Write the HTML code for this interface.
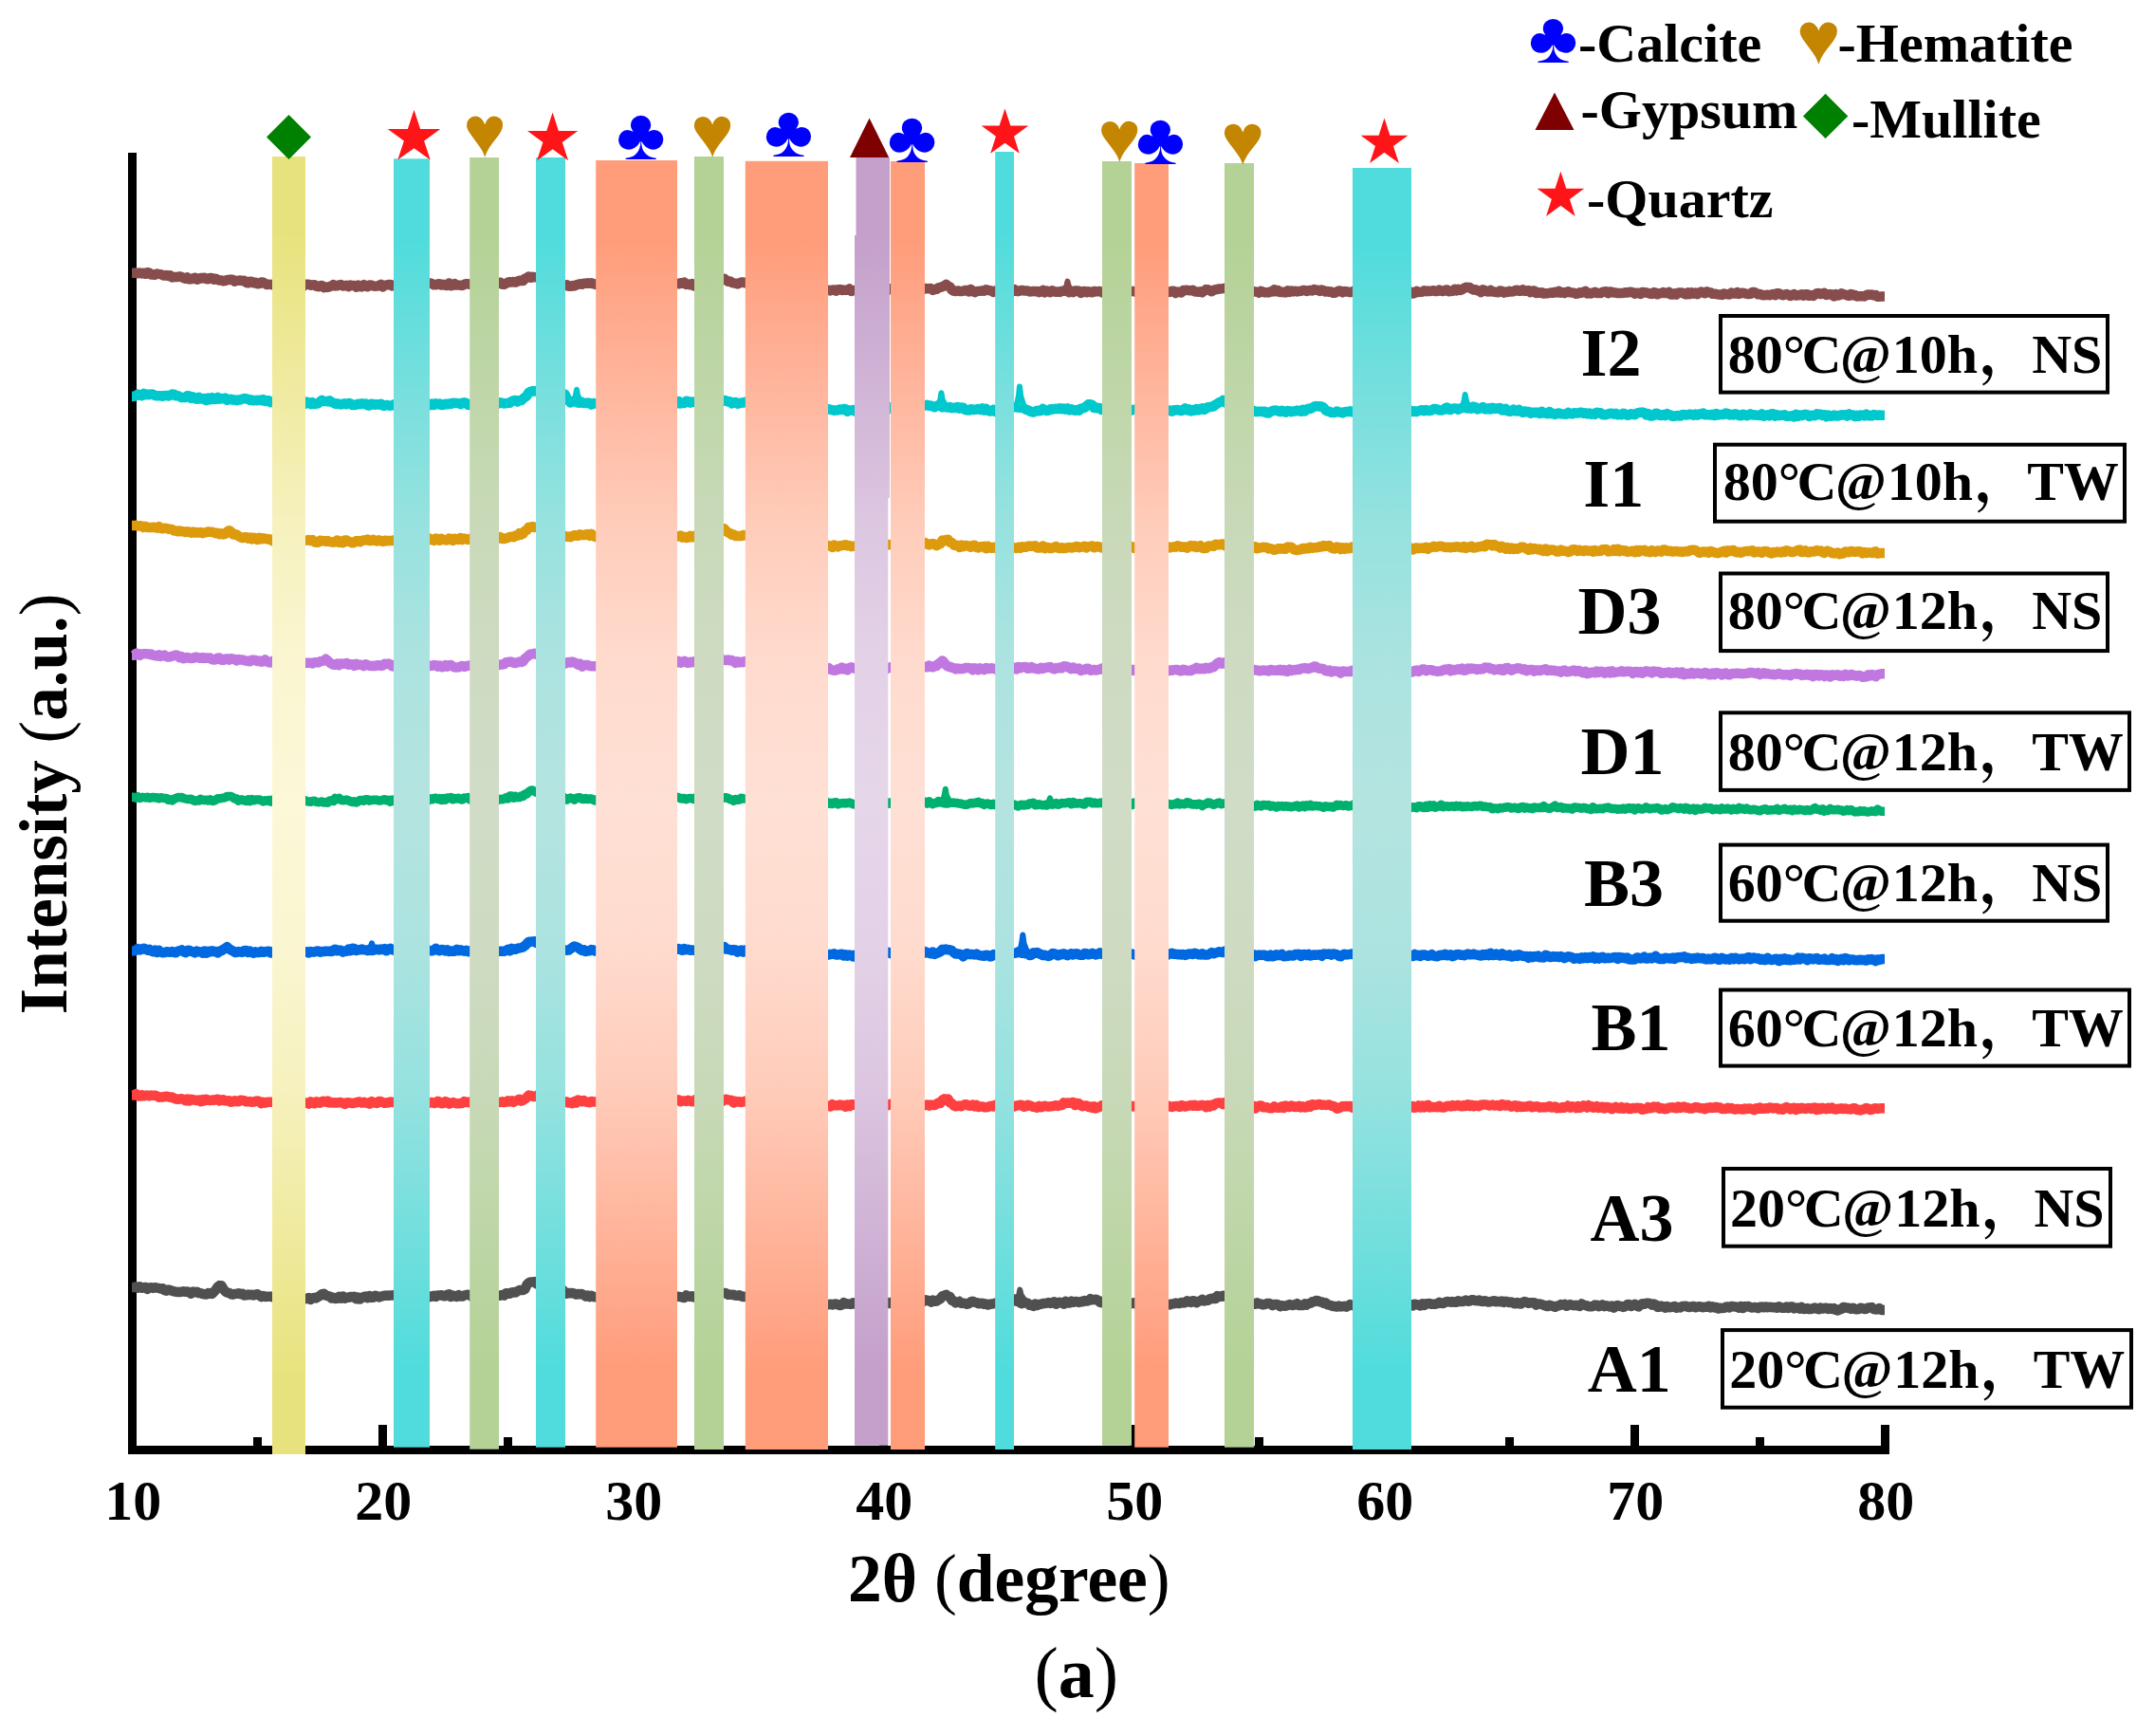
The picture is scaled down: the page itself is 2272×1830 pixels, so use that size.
<!DOCTYPE html>
<html lang="en"><head><meta charset="utf-8"><title>XRD patterns</title>
<style>
html,body{margin:0;padding:0;background:#fff;}
body{width:2272px;height:1830px;overflow:hidden;}
svg{display:block;}
text{font-family:"Liberation Serif","Noto Serif CJK SC",serif;font-weight:bold;}
.cj{font-family:"Noto Serif CJK SC","Liberation Serif",serif;font-weight:bold;}
.sym{font-family:"Liberation Serif",serif;font-weight:normal;}
.n{font-weight:normal;}
.tr{fill:none;stroke-linejoin:round;stroke-linecap:butt;}
</style></head><body>
<svg width="2272" height="1830" viewBox="0 0 2272 1830">
<defs>
<linearGradient id="gy" x1="0" y1="0" x2="0" y2="1"><stop offset="0" stop-color="#e8e27e"/><stop offset="0.06" stop-color="#e8e27e"/><stop offset="0.17" stop-color="#efea9e"/><stop offset="0.28" stop-color="#f6f1bd"/><stop offset="0.39" stop-color="#faf6d1"/><stop offset="0.5" stop-color="#fcf8d8"/><stop offset="0.61" stop-color="#faf6d1"/><stop offset="0.72" stop-color="#f6f1bd"/><stop offset="0.83" stop-color="#efea9e"/><stop offset="0.94" stop-color="#e8e27e"/><stop offset="1" stop-color="#e8e27e"/></linearGradient>
<linearGradient id="gc" x1="0" y1="0" x2="0" y2="1"><stop offset="0" stop-color="#50dcdc"/><stop offset="0.06" stop-color="#50dcdc"/><stop offset="0.17" stop-color="#74dfdd"/><stop offset="0.28" stop-color="#96e2df"/><stop offset="0.39" stop-color="#ace3e0"/><stop offset="0.5" stop-color="#b4e4e0"/><stop offset="0.61" stop-color="#ace3e0"/><stop offset="0.72" stop-color="#96e2df"/><stop offset="0.83" stop-color="#74dfdd"/><stop offset="0.94" stop-color="#50dcdc"/><stop offset="1" stop-color="#50dcdc"/></linearGradient>
<linearGradient id="gg" x1="0" y1="0" x2="0" y2="1"><stop offset="0" stop-color="#b4d296"/><stop offset="0.06" stop-color="#b4d296"/><stop offset="0.17" stop-color="#bed6a7"/><stop offset="0.28" stop-color="#c8d9b8"/><stop offset="0.39" stop-color="#cedbc2"/><stop offset="0.5" stop-color="#d0dcc6"/><stop offset="0.61" stop-color="#cedbc2"/><stop offset="0.72" stop-color="#c8d9b8"/><stop offset="0.83" stop-color="#bed6a7"/><stop offset="0.94" stop-color="#b4d296"/><stop offset="1" stop-color="#b4d296"/></linearGradient>
<linearGradient id="go" x1="0" y1="0" x2="0" y2="1"><stop offset="0" stop-color="#ff9c7a"/><stop offset="0.06" stop-color="#ff9c7a"/><stop offset="0.17" stop-color="#ffb49b"/><stop offset="0.28" stop-color="#ffccba"/><stop offset="0.39" stop-color="#ffdbce"/><stop offset="0.5" stop-color="#ffe0d5"/><stop offset="0.61" stop-color="#ffdbce"/><stop offset="0.72" stop-color="#ffccba"/><stop offset="0.83" stop-color="#ffb49b"/><stop offset="0.94" stop-color="#ff9c7a"/><stop offset="1" stop-color="#ff9c7a"/></linearGradient>
<linearGradient id="gp" x1="0" y1="0" x2="0" y2="1"><stop offset="0" stop-color="#c4a0ca"/><stop offset="0.06" stop-color="#c4a0ca"/><stop offset="0.17" stop-color="#d0b3d6"/><stop offset="0.28" stop-color="#dcc6e0"/><stop offset="0.39" stop-color="#e3d2e7"/><stop offset="0.5" stop-color="#e6d6ea"/><stop offset="0.61" stop-color="#e3d2e7"/><stop offset="0.72" stop-color="#dcc6e0"/><stop offset="0.83" stop-color="#d0b3d6"/><stop offset="0.94" stop-color="#c4a0ca"/><stop offset="1" stop-color="#c4a0ca"/></linearGradient>
</defs>
<rect width="2272" height="1830" fill="#fff"/>
<g fill="#000">
<rect x="135" y="161" width="9" height="1372"/>
<rect x="135" y="1524" width="1857" height="9"/>
<rect x="267.0" y="1515" width="9" height="11"/>
<rect x="399.0" y="1502" width="9" height="24"/>
<rect x="531.0" y="1515" width="9" height="11"/>
<rect x="663.0" y="1502" width="9" height="24"/>
<rect x="795.0" y="1515" width="9" height="11"/>
<rect x="927.0" y="1502" width="9" height="24"/>
<rect x="1059.0" y="1515" width="9" height="11"/>
<rect x="1191.0" y="1502" width="9" height="24"/>
<rect x="1323.0" y="1515" width="9" height="11"/>
<rect x="1455.0" y="1502" width="9" height="24"/>
<rect x="1587.0" y="1515" width="9" height="11"/>
<rect x="1719.0" y="1502" width="9" height="24"/>
<rect x="1851.0" y="1515" width="9" height="11"/>
<rect x="1983.0" y="1502" width="9" height="24"/>
</g>
<polyline class="tr" stroke="#874c4c" stroke-width="10.5" points="139.0,287.7 141.5,287.7 143.5,287.5 145.5,288.2 147.5,287.6 149.5,288.4 151.5,287.8 153.5,288.8 155.5,287.2 157.5,287.6 159.5,289.6 161.5,289.5 163.5,289.8 165.5,288.6 167.5,288.9 169.5,289.1 171.5,290.1 173.5,290.6 175.5,289.9 177.5,290.9 179.5,290.3 181.5,292.4 183.5,292.0 185.5,291.9 187.5,291.9 189.5,291.4 191.5,292.0 193.5,293.0 195.5,293.7 197.5,292.4 199.5,294.4 201.5,294.2 203.5,293.5 205.5,292.8 207.5,294.7 209.5,294.0 211.5,292.9 213.5,293.5 215.5,292.7 217.5,294.0 219.5,294.3 221.5,292.9 223.5,293.1 225.5,294.7 227.5,293.8 229.5,294.7 231.5,295.6 233.5,295.5 235.5,296.2 237.5,296.1 239.5,294.9 241.5,295.1 243.5,294.6 245.5,295.0 247.5,296.7 249.5,295.9 251.5,295.7 253.5,295.6 255.5,296.1 257.5,295.8 259.5,297.8 261.5,298.3 263.5,296.7 265.5,297.0 267.5,298.3 269.5,297.7 271.5,299.2 273.5,299.1 275.5,297.5 277.5,297.8 279.5,299.0 281.5,300.1 283.5,299.7 285.5,299.9 287.5,300.3 289.5,299.0 291.5,299.6 293.5,299.7 295.5,299.1 297.5,299.3 299.5,298.9 301.5,298.8 303.5,300.2 305.5,299.2 307.5,300.5 309.5,300.2 311.5,299.4 313.5,301.2 315.5,300.0 317.5,300.6 319.5,302.0 321.5,299.7 323.5,299.8 325.5,299.8 327.5,300.7 329.5,300.4 331.5,300.2 333.5,301.7 335.5,302.2 337.5,301.2 339.5,301.0 341.5,303.1 343.5,302.6 345.5,302.9 347.5,302.1 349.5,301.5 351.5,300.1 353.5,301.4 355.5,301.2 357.5,300.5 359.5,300.1 361.5,301.4 363.5,301.3 365.5,300.7 367.5,302.1 369.5,300.6 371.5,301.1 373.5,301.1 375.5,302.6 377.5,300.7 379.5,302.0 381.5,302.4 383.5,300.1 385.5,301.6 387.5,302.3 389.5,300.6 391.5,300.6 393.5,301.5 395.5,301.7 397.5,301.6 399.5,301.0 401.5,300.0 403.5,302.4 405.5,300.7 407.5,300.6 409.5,299.9 411.5,299.9 413.5,301.5 415.5,300.7 417.5,300.1 419.5,300.4 421.5,300.3 423.5,300.2 425.5,300.7 427.5,301.3 429.5,299.8 431.5,300.1 433.5,302.1 435.5,300.7 437.5,300.7 439.5,301.2 441.5,300.5 443.5,300.1 445.5,301.4 447.5,300.9 449.5,299.6 451.5,299.0 453.5,298.4 455.5,299.2 457.5,300.3 459.5,300.2 461.5,299.5 463.5,299.2 465.5,300.5 467.5,299.8 469.5,300.7 471.5,301.0 473.5,298.5 475.5,301.2 477.5,300.6 479.5,299.2 481.5,300.6 483.5,300.6 485.5,300.8 487.5,300.9 489.5,299.8 491.5,299.1 493.5,299.3 495.5,299.8 497.5,299.1 499.5,300.9 501.5,299.4 503.5,299.3 505.5,300.8 507.5,300.7 509.5,300.0 511.5,299.2 513.5,299.9 515.5,299.5 517.5,299.3 519.5,299.5 521.5,299.7 523.5,299.6 525.5,297.9 527.5,297.8 529.5,299.7 531.5,299.9 533.5,298.9 535.5,297.6 537.5,297.2 539.5,297.6 541.5,296.9 543.5,297.7 545.5,296.8 547.5,295.8 549.5,295.8 551.5,296.1 553.5,293.5 555.5,293.0 557.5,291.5 559.5,292.7 561.5,291.7 563.5,292.3 565.5,292.1 567.5,292.7 569.5,292.7 571.5,293.5 573.5,293.5 575.5,292.9 577.5,293.6 579.5,293.6 581.5,293.5 583.5,294.3 585.5,294.2 587.5,295.8 589.5,297.1 591.5,298.3 593.5,299.8 595.5,300.9 597.5,300.2 599.5,301.8 601.5,301.8 603.5,301.0 605.5,301.6 607.5,300.4 609.5,299.9 611.5,299.3 613.5,299.7 615.5,298.7 617.5,298.8 619.5,298.3 621.5,298.8 623.5,298.2 625.5,299.1 627.5,299.6 629.5,300.2 631.5,299.6 633.5,300.5 635.5,300.1 637.5,299.5 639.5,300.4 641.5,301.0 643.5,300.4 645.5,301.4 647.5,300.1 649.5,299.4 651.5,299.5 653.5,298.2 655.5,299.7 657.5,299.8 659.5,299.0 661.5,299.5 663.5,299.4 665.5,299.5 667.5,299.5 669.5,298.4 671.5,299.9 673.5,298.8 675.5,299.4 677.5,298.5 679.5,298.8 681.5,300.9 683.5,301.1 685.5,300.1 687.5,299.8 689.5,297.8 691.5,298.3 693.5,300.7 695.5,299.7 697.5,300.5 699.5,298.7 701.5,300.8 703.5,300.5 705.5,299.0 707.5,298.8 709.5,298.3 711.5,298.7 713.5,299.2 715.5,299.3 717.5,298.2 719.5,298.7 721.5,297.7 723.5,299.9 725.5,299.6 727.5,300.2 729.5,299.1 731.5,301.5 733.5,299.6 735.5,298.5 737.5,298.4 739.5,298.4 741.5,297.6 743.5,298.5 745.5,296.5 747.5,297.6 749.5,297.8 751.5,294.9 753.5,296.4 755.5,295.6 757.5,296.2 759.5,295.7 761.5,293.9 763.5,293.8 765.5,295.3 767.5,296.7 769.5,296.4 771.5,297.8 773.5,298.3 775.5,298.7 777.5,299.4 779.5,298.6 781.5,297.4 783.5,297.5 785.5,298.3 787.5,297.4 789.5,297.7 791.5,299.4 793.5,299.3 795.5,300.2 797.5,299.2 799.5,301.0 801.5,300.2 803.5,300.2 805.5,301.5 807.5,299.0 809.5,300.5 811.5,301.4 813.5,301.4 815.5,301.4 817.5,299.8 819.5,302.4 821.5,300.4 823.5,302.4 825.5,302.8 827.5,303.3 829.5,303.8 831.5,302.8 833.5,303.1 835.5,303.1 837.5,303.3 839.5,303.3 841.5,302.5 843.5,304.3 845.5,303.0 847.5,304.1 849.5,303.6 851.5,303.9 853.5,304.1 855.5,305.5 857.5,305.1 859.5,304.3 861.5,304.1 863.5,303.7 865.5,305.7 867.5,306.0 869.5,306.3 871.5,305.9 873.5,305.8 875.5,306.4 877.5,305.7 879.5,305.4 881.5,306.7 883.5,305.3 885.5,305.1 887.5,306.0 889.5,305.6 891.5,305.9 893.5,305.7 895.5,304.5 897.5,306.9 899.5,306.3 901.5,305.9 903.5,307.1 905.5,306.2 907.5,306.5 909.5,306.7 911.5,306.7 913.5,306.9 915.5,305.4 917.5,306.5 919.5,306.1 921.5,307.1 923.5,305.1 925.5,304.5 927.5,305.7 929.5,306.1 931.5,304.6 933.5,304.7 935.5,304.9 937.5,304.9 939.5,304.0 941.5,306.4 943.5,304.5 945.5,306.2 947.5,306.3 949.5,305.5 951.5,304.9 953.5,305.5 955.5,305.1 957.5,304.2 959.5,303.4 961.5,305.2 963.5,303.5 965.5,304.8 967.5,303.7 969.5,304.6 971.5,304.0 973.5,305.0 975.5,304.1 977.5,304.2 979.5,304.2 981.5,303.9 983.5,305.9 985.5,305.1 987.5,304.8 989.5,303.3 991.5,302.9 993.5,302.3 995.5,301.4 997.5,299.9 999.5,301.5 1001.5,302.5 1003.5,305.5 1005.5,306.7 1007.5,307.1 1009.5,306.4 1011.5,307.0 1013.5,307.0 1015.5,306.7 1017.5,306.1 1019.5,306.0 1021.5,307.5 1023.5,305.0 1025.5,306.9 1027.5,308.1 1029.5,307.2 1031.5,306.9 1033.5,306.7 1035.5,306.4 1037.5,306.7 1039.5,305.3 1041.5,305.9 1043.5,306.2 1045.5,306.8 1047.5,308.0 1049.5,306.5 1051.5,306.8 1053.5,307.5 1055.5,306.2 1057.5,307.1 1059.5,306.9 1061.5,306.1 1063.5,305.8 1065.5,306.0 1067.5,307.3 1069.5,305.2 1071.5,306.8 1073.5,307.2 1075.5,306.4 1077.5,306.0 1079.5,306.4 1081.5,306.5 1083.5,306.5 1085.5,307.4 1087.5,307.3 1089.5,306.9 1091.5,307.2 1093.5,307.1 1095.5,308.2 1097.5,307.1 1099.5,306.0 1101.5,308.5 1103.5,306.6 1105.5,307.2 1107.5,308.1 1109.5,306.3 1111.5,307.4 1113.5,307.8 1115.5,307.5 1117.5,307.9 1119.5,306.8 1121.5,306.8 1123.5,305.7 1125.5,307.0 1127.5,308.3 1129.5,307.1 1131.5,308.1 1133.5,306.4 1135.5,306.4 1137.5,306.6 1139.5,309.0 1141.5,307.3 1143.5,306.9 1145.5,308.3 1147.5,307.2 1149.5,307.9 1151.5,308.3 1153.5,306.9 1155.5,307.4 1157.5,307.2 1159.5,306.9 1161.5,308.1 1163.5,308.7 1165.5,307.1 1167.5,307.0 1169.5,306.4 1171.5,308.5 1173.5,308.1 1175.5,308.4 1177.5,308.7 1179.5,307.5 1181.5,306.7 1183.5,306.3 1185.5,308.6 1187.5,308.2 1189.5,307.6 1191.5,307.4 1193.5,306.9 1195.5,307.0 1197.5,307.8 1199.5,307.1 1201.5,306.3 1203.5,308.5 1205.5,307.8 1207.5,309.0 1209.5,308.5 1211.5,309.0 1213.5,307.4 1215.5,306.7 1217.5,306.4 1219.5,307.2 1221.5,306.7 1223.5,307.3 1225.5,308.1 1227.5,306.4 1229.5,306.8 1231.5,308.2 1233.5,307.8 1235.5,306.8 1237.5,306.8 1239.5,309.0 1241.5,307.6 1243.5,307.8 1245.5,308.4 1247.5,306.1 1249.5,306.0 1251.5,305.8 1253.5,306.2 1255.5,306.2 1257.5,305.8 1259.5,307.4 1261.5,307.4 1263.5,307.8 1265.5,307.3 1267.5,308.3 1269.5,306.6 1271.5,305.1 1273.5,305.3 1275.5,306.2 1277.5,307.3 1279.5,305.9 1281.5,305.2 1283.5,305.0 1285.5,304.4 1287.5,304.4 1289.5,304.1 1291.5,303.8 1293.5,304.4 1295.5,305.8 1297.5,304.3 1299.5,304.3 1301.5,305.8 1303.5,306.6 1305.5,306.4 1307.5,306.6 1309.5,306.4 1311.5,305.3 1313.5,306.7 1315.5,304.7 1317.5,307.4 1319.5,306.3 1321.5,307.5 1323.5,307.6 1325.5,307.7 1327.5,308.6 1329.5,306.8 1331.5,307.6 1333.5,308.4 1335.5,308.2 1337.5,308.4 1339.5,307.3 1341.5,307.4 1343.5,305.2 1345.5,307.2 1347.5,306.1 1349.5,308.1 1351.5,307.7 1353.5,308.2 1355.5,308.4 1357.5,306.5 1359.5,307.9 1361.5,306.5 1363.5,307.4 1365.5,306.7 1367.5,307.5 1369.5,307.0 1371.5,306.8 1373.5,306.0 1375.5,305.9 1377.5,307.0 1379.5,306.4 1381.5,306.0 1383.5,306.5 1385.5,305.1 1387.5,305.7 1389.5,305.8 1391.5,306.9 1393.5,305.6 1395.5,306.3 1397.5,307.6 1399.5,307.0 1401.5,307.7 1403.5,307.5 1405.5,308.8 1407.5,308.7 1409.5,307.6 1411.5,306.4 1413.5,306.9 1415.5,308.3 1417.5,307.1 1419.5,307.3 1421.5,307.7 1423.5,308.2 1425.5,307.8 1427.5,306.8 1429.5,305.6 1431.5,305.6 1433.5,305.6 1435.5,307.3 1437.5,306.5 1439.5,308.1 1441.5,307.5 1443.5,308.4 1445.5,306.8 1447.5,306.6 1449.5,308.2 1451.5,306.9 1453.5,306.4 1455.5,306.6 1457.5,308.1 1459.5,306.4 1461.5,307.3 1463.5,307.5 1465.5,308.7 1467.5,306.9 1469.5,306.3 1471.5,308.4 1473.5,306.8 1475.5,306.1 1477.5,305.4 1479.5,307.8 1481.5,307.9 1483.5,308.5 1485.5,307.3 1487.5,307.7 1489.5,309.5 1491.5,308.9 1493.5,306.8 1495.5,308.1 1497.5,307.9 1499.5,307.7 1501.5,306.4 1503.5,307.3 1505.5,306.6 1507.5,307.1 1509.5,306.7 1511.5,306.2 1513.5,307.1 1515.5,307.0 1517.5,305.6 1519.5,306.6 1521.5,307.1 1523.5,305.9 1525.5,305.5 1527.5,307.3 1529.5,306.9 1531.5,306.8 1533.5,305.0 1535.5,306.4 1537.5,304.8 1539.5,305.9 1541.5,305.3 1543.5,303.9 1545.5,302.8 1547.5,303.0 1549.5,303.0 1551.5,304.6 1553.5,305.6 1555.5,305.2 1557.5,306.2 1559.5,306.5 1561.5,308.2 1563.5,305.4 1565.5,306.2 1567.5,307.2 1569.5,307.5 1571.5,306.0 1573.5,307.5 1575.5,307.6 1577.5,308.1 1579.5,308.2 1581.5,306.5 1583.5,306.9 1585.5,308.6 1587.5,307.6 1589.5,308.0 1591.5,306.8 1593.5,307.6 1595.5,307.4 1597.5,306.1 1599.5,305.7 1601.5,306.8 1603.5,306.8 1605.5,305.4 1607.5,306.9 1609.5,306.5 1611.5,306.3 1613.5,308.2 1615.5,306.8 1617.5,306.5 1619.5,309.0 1621.5,308.1 1623.5,308.9 1625.5,308.2 1627.5,309.5 1629.5,309.2 1631.5,309.2 1633.5,308.9 1635.5,308.5 1637.5,308.7 1639.5,307.7 1641.5,308.5 1643.5,307.0 1645.5,308.6 1647.5,307.9 1649.5,309.1 1651.5,307.9 1653.5,307.2 1655.5,308.4 1657.5,308.6 1659.5,308.7 1661.5,309.7 1663.5,309.6 1665.5,308.3 1667.5,308.7 1669.5,307.6 1671.5,306.9 1673.5,309.4 1675.5,308.8 1677.5,309.5 1679.5,308.6 1681.5,307.8 1683.5,309.0 1685.5,309.1 1687.5,309.1 1689.5,307.8 1691.5,307.4 1693.5,307.2 1695.5,309.2 1697.5,307.5 1699.5,307.9 1701.5,308.5 1703.5,308.6 1705.5,309.0 1707.5,309.1 1709.5,309.1 1711.5,308.9 1713.5,308.2 1715.5,308.6 1717.5,308.0 1719.5,307.7 1721.5,308.3 1723.5,309.6 1725.5,308.7 1727.5,308.8 1729.5,309.9 1731.5,308.0 1733.5,308.2 1735.5,308.5 1737.5,308.9 1739.5,309.7 1741.5,309.9 1743.5,308.2 1745.5,308.7 1747.5,310.3 1749.5,309.3 1751.5,309.1 1753.5,308.0 1755.5,309.1 1757.5,309.1 1759.5,307.9 1761.5,310.6 1763.5,310.6 1765.5,309.3 1767.5,310.5 1769.5,308.6 1771.5,308.5 1773.5,308.5 1775.5,309.6 1777.5,310.4 1779.5,308.5 1781.5,310.0 1783.5,308.3 1785.5,309.6 1787.5,308.6 1789.5,310.1 1791.5,308.7 1793.5,307.6 1795.5,308.2 1797.5,309.2 1799.5,307.3 1801.5,308.1 1803.5,308.5 1805.5,309.8 1807.5,309.7 1809.5,310.0 1811.5,310.5 1813.5,310.5 1815.5,310.9 1817.5,309.5 1819.5,310.1 1821.5,310.3 1823.5,310.4 1825.5,308.6 1827.5,309.5 1829.5,309.4 1831.5,308.2 1833.5,310.0 1835.5,309.2 1837.5,308.7 1839.5,309.3 1841.5,309.7 1843.5,310.0 1845.5,309.8 1847.5,308.0 1849.5,307.9 1851.5,309.0 1853.5,310.3 1855.5,309.9 1857.5,311.0 1859.5,311.2 1861.5,311.1 1863.5,310.8 1865.5,311.2 1867.5,310.6 1869.5,309.9 1871.5,311.1 1873.5,309.2 1875.5,309.2 1877.5,310.4 1879.5,311.3 1881.5,310.6 1883.5,310.1 1885.5,310.7 1887.5,311.9 1889.5,311.3 1891.5,310.0 1893.5,311.6 1895.5,311.3 1897.5,311.0 1899.5,310.3 1901.5,311.7 1903.5,310.3 1905.5,310.2 1907.5,311.8 1909.5,311.2 1911.5,312.0 1913.5,310.5 1915.5,309.3 1917.5,309.1 1919.5,310.1 1921.5,309.5 1923.5,308.8 1925.5,310.9 1927.5,310.4 1929.5,310.1 1931.5,310.5 1933.5,312.4 1935.5,310.1 1937.5,311.5 1939.5,311.1 1941.5,309.3 1943.5,310.2 1945.5,310.6 1947.5,311.3 1949.5,311.8 1951.5,310.0 1953.5,311.2 1955.5,310.9 1957.5,312.4 1959.5,312.3 1961.5,312.2 1963.5,312.2 1965.5,312.4 1967.5,311.2 1969.5,310.5 1971.5,310.7 1973.5,310.6 1975.5,311.5 1977.5,311.0 1979.5,312.7 1981.5,312.8 1983.5,312.4 1987.0,312.4"/>
<polyline class="tr" stroke="#874c4c" stroke-width="6" stroke-linecap="round" points="1122.0,307.0 1124.5,301.1 1125.5,296.6 1126.7,301.6 1130.5,306.5"/>
<polyline class="tr" stroke="#00c8cc" stroke-width="10.5" points="139.0,417.8 141.5,417.8 143.5,417.0 145.5,415.6 147.5,416.6 149.5,417.1 151.5,415.0 153.5,416.2 155.5,415.7 157.5,416.2 159.5,415.4 161.5,415.9 163.5,417.0 165.5,417.2 167.5,417.2 169.5,417.2 171.5,417.8 173.5,416.9 175.5,416.9 177.5,417.4 179.5,416.8 181.5,415.6 183.5,415.7 185.5,417.2 187.5,417.2 189.5,418.0 191.5,419.1 193.5,419.1 195.5,419.1 197.5,417.2 199.5,417.5 201.5,419.7 203.5,418.4 205.5,420.3 207.5,420.7 209.5,418.7 211.5,420.5 213.5,420.3 215.5,419.9 217.5,422.1 219.5,419.7 221.5,421.1 223.5,419.3 225.5,420.9 227.5,420.8 229.5,419.0 231.5,420.6 233.5,419.9 235.5,420.3 237.5,419.5 239.5,421.8 241.5,421.1 243.5,420.8 245.5,421.5 247.5,421.4 249.5,422.2 251.5,421.4 253.5,421.4 255.5,420.5 257.5,420.0 259.5,420.3 261.5,420.8 263.5,421.8 265.5,421.5 267.5,422.3 269.5,421.9 271.5,422.2 273.5,421.7 275.5,422.2 277.5,421.1 279.5,423.0 281.5,422.3 283.5,422.2 285.5,424.2 287.5,423.4 289.5,425.1 291.5,423.2 293.5,422.9 295.5,422.8 297.5,424.9 299.5,423.9 301.5,423.7 303.5,424.9 305.5,423.9 307.5,423.7 309.5,424.6 311.5,423.9 313.5,424.9 315.5,423.2 317.5,422.9 319.5,424.6 321.5,425.7 323.5,423.7 325.5,424.6 327.5,426.0 329.5,424.3 331.5,426.1 333.5,425.7 335.5,425.1 337.5,423.3 339.5,421.9 341.5,423.1 343.5,423.1 345.5,423.3 347.5,422.3 349.5,423.9 351.5,424.6 353.5,425.7 355.5,425.4 357.5,425.9 359.5,426.4 361.5,425.9 363.5,425.2 365.5,426.1 367.5,424.9 369.5,425.3 371.5,427.0 373.5,427.0 375.5,426.6 377.5,425.7 379.5,426.1 381.5,425.2 383.5,425.8 385.5,425.6 387.5,427.4 389.5,427.6 391.5,425.8 393.5,426.0 395.5,426.7 397.5,426.2 399.5,426.6 401.5,425.7 403.5,427.5 405.5,427.8 407.5,426.9 409.5,427.4 411.5,427.7 413.5,427.3 415.5,426.3 417.5,426.9 419.5,427.8 421.5,427.4 423.5,426.0 425.5,425.1 427.5,426.0 429.5,426.9 431.5,427.1 433.5,424.9 435.5,424.7 437.5,426.0 439.5,425.1 441.5,425.6 443.5,426.9 445.5,424.6 447.5,426.9 449.5,426.9 451.5,427.3 453.5,427.0 455.5,425.7 457.5,427.0 459.5,425.4 461.5,426.2 463.5,425.6 465.5,427.1 467.5,426.8 469.5,425.7 471.5,426.2 473.5,425.5 475.5,425.8 477.5,424.7 479.5,425.0 481.5,424.9 483.5,425.1 485.5,426.1 487.5,424.7 489.5,424.3 491.5,424.8 493.5,426.9 495.5,426.4 497.5,426.0 499.5,425.2 501.5,426.5 503.5,425.9 505.5,425.0 507.5,427.2 509.5,426.5 511.5,424.6 513.5,425.1 515.5,426.7 517.5,425.3 519.5,425.3 521.5,425.2 523.5,426.5 525.5,424.8 527.5,424.3 529.5,424.8 531.5,425.4 533.5,425.2 535.5,424.8 537.5,424.7 539.5,423.0 541.5,422.4 543.5,421.9 545.5,423.5 547.5,422.3 549.5,422.1 551.5,420.2 553.5,418.8 555.5,417.0 557.5,413.7 559.5,412.8 561.5,412.1 563.5,412.6 565.5,412.0 567.5,411.4 569.5,412.7 571.5,411.8 573.5,412.8 575.5,412.7 577.5,411.2 579.5,412.2 581.5,412.0 583.5,412.3 585.5,413.2 587.5,413.2 589.5,414.9 591.5,414.8 593.5,415.0 595.5,415.5 597.5,420.0 599.5,422.2 601.5,424.4 603.5,423.1 605.5,423.5 607.5,423.2 609.5,424.6 611.5,424.7 613.5,423.9 615.5,425.0 617.5,425.1 619.5,424.6 621.5,424.8 623.5,426.5 625.5,424.9 627.5,425.4 629.5,425.4 631.5,425.2 633.5,425.8 635.5,426.9 637.5,426.8 639.5,426.0 641.5,427.9 643.5,426.8 645.5,426.6 647.5,425.9 649.5,427.2 651.5,427.2 653.5,425.2 655.5,424.7 657.5,426.2 659.5,427.0 661.5,424.8 663.5,424.7 665.5,424.7 667.5,425.6 669.5,426.5 671.5,425.8 673.5,425.6 675.5,425.7 677.5,426.0 679.5,425.2 681.5,424.0 683.5,424.2 685.5,425.4 687.5,425.2 689.5,424.8 691.5,423.4 693.5,423.7 695.5,423.7 697.5,424.0 699.5,423.9 701.5,424.1 703.5,424.8 705.5,423.6 707.5,422.8 709.5,425.0 711.5,424.8 713.5,425.5 715.5,422.9 717.5,425.4 719.5,424.7 721.5,425.0 723.5,422.7 725.5,423.1 727.5,424.6 729.5,423.5 731.5,424.1 733.5,423.3 735.5,422.8 737.5,423.3 739.5,423.2 741.5,423.3 743.5,423.4 745.5,423.1 747.5,422.5 749.5,422.6 751.5,423.2 753.5,422.0 755.5,422.1 757.5,422.0 759.5,421.3 761.5,423.2 763.5,421.9 765.5,422.3 767.5,423.4 769.5,423.3 771.5,425.3 773.5,424.1 775.5,423.9 777.5,425.7 779.5,425.2 781.5,424.6 783.5,424.5 785.5,423.8 787.5,424.6 789.5,425.3 791.5,426.3 793.5,423.7 795.5,423.7 797.5,425.4 799.5,424.6 801.5,423.5 803.5,424.2 805.5,426.5 807.5,425.1 809.5,425.7 811.5,426.5 813.5,425.7 815.5,426.0 817.5,427.0 819.5,427.8 821.5,427.7 823.5,426.6 825.5,428.9 827.5,428.9 829.5,427.3 831.5,429.1 833.5,429.3 835.5,429.0 837.5,428.2 839.5,429.9 841.5,428.5 843.5,430.0 845.5,431.3 847.5,430.3 849.5,432.0 851.5,430.7 853.5,429.2 855.5,429.7 857.5,431.4 859.5,432.2 861.5,431.8 863.5,430.7 865.5,432.6 867.5,430.6 869.5,431.9 871.5,431.4 873.5,431.3 875.5,431.9 877.5,432.1 879.5,432.7 881.5,432.5 883.5,432.2 885.5,431.5 887.5,432.0 889.5,430.9 891.5,431.4 893.5,433.7 895.5,432.5 897.5,432.6 899.5,432.1 901.5,433.7 903.5,433.7 905.5,434.0 907.5,433.3 909.5,433.3 911.5,431.3 913.5,431.1 915.5,432.6 917.5,432.5 919.5,432.4 921.5,430.8 923.5,430.0 925.5,431.0 927.5,430.1 929.5,431.0 931.5,430.7 933.5,431.2 935.5,429.3 937.5,429.3 939.5,431.1 941.5,429.2 943.5,429.6 945.5,428.1 947.5,429.8 949.5,428.9 951.5,430.9 953.5,428.4 955.5,428.7 957.5,429.4 959.5,429.1 961.5,429.7 963.5,429.4 965.5,430.4 967.5,429.0 969.5,430.0 971.5,428.2 973.5,427.9 975.5,427.3 977.5,426.8 979.5,427.8 981.5,427.6 983.5,428.5 985.5,429.2 987.5,427.9 989.5,427.2 991.5,427.6 993.5,429.4 995.5,428.7 997.5,429.3 999.5,429.6 1001.5,429.1 1003.5,430.2 1005.5,429.8 1007.5,429.9 1009.5,429.1 1011.5,430.7 1013.5,429.6 1015.5,429.7 1017.5,432.0 1019.5,432.5 1021.5,432.5 1023.5,431.2 1025.5,432.0 1027.5,431.8 1029.5,431.7 1031.5,430.9 1033.5,431.9 1035.5,430.5 1037.5,432.4 1039.5,430.7 1041.5,432.9 1043.5,433.6 1045.5,433.4 1047.5,431.8 1049.5,434.1 1051.5,432.1 1053.5,431.9 1055.5,430.6 1057.5,430.2 1059.5,430.6 1061.5,428.7 1063.5,429.2 1065.5,428.5 1067.5,428.8 1069.5,429.0 1071.5,429.5 1073.5,429.6 1075.5,429.8 1077.5,429.5 1079.5,430.5 1081.5,431.6 1083.5,432.2 1085.5,433.2 1087.5,434.2 1089.5,434.6 1091.5,433.6 1093.5,432.8 1095.5,433.3 1097.5,432.8 1099.5,431.0 1101.5,432.3 1103.5,432.9 1105.5,432.7 1107.5,431.3 1109.5,431.5 1111.5,431.1 1113.5,430.8 1115.5,431.2 1117.5,430.3 1119.5,431.2 1121.5,430.5 1123.5,431.6 1125.5,430.4 1127.5,432.4 1129.5,431.3 1131.5,432.4 1133.5,432.7 1135.5,432.1 1137.5,432.8 1139.5,430.8 1141.5,430.2 1143.5,429.8 1145.5,428.1 1147.5,426.2 1149.5,426.3 1151.5,427.0 1153.5,430.0 1155.5,429.3 1157.5,430.5 1159.5,430.1 1161.5,432.1 1163.5,432.1 1165.5,432.1 1167.5,432.2 1169.5,431.0 1171.5,432.7 1173.5,432.8 1175.5,432.8 1177.5,433.1 1179.5,431.3 1181.5,433.7 1183.5,432.3 1185.5,433.0 1187.5,431.4 1189.5,432.0 1191.5,432.4 1193.5,432.5 1195.5,431.6 1197.5,431.4 1199.5,431.4 1201.5,432.9 1203.5,433.7 1205.5,431.3 1207.5,432.5 1209.5,432.4 1211.5,433.4 1213.5,433.7 1215.5,434.3 1217.5,433.2 1219.5,432.2 1221.5,434.0 1223.5,433.2 1225.5,432.9 1227.5,434.3 1229.5,432.1 1231.5,433.0 1233.5,432.6 1235.5,433.7 1237.5,432.3 1239.5,432.4 1241.5,432.0 1243.5,432.7 1245.5,433.1 1247.5,431.8 1249.5,430.5 1251.5,432.5 1253.5,431.4 1255.5,433.3 1257.5,432.0 1259.5,432.7 1261.5,431.1 1263.5,432.4 1265.5,431.2 1267.5,430.4 1269.5,432.0 1271.5,430.8 1273.5,429.2 1275.5,429.1 1277.5,428.5 1279.5,428.4 1281.5,426.6 1283.5,425.4 1285.5,424.1 1287.5,423.6 1289.5,422.0 1291.5,423.7 1293.5,425.2 1295.5,425.8 1297.5,425.3 1299.5,427.0 1301.5,428.7 1303.5,429.3 1305.5,430.1 1307.5,431.9 1309.5,431.1 1311.5,432.5 1313.5,431.3 1315.5,432.8 1317.5,431.8 1319.5,434.3 1321.5,432.8 1323.5,433.9 1325.5,434.0 1327.5,433.7 1329.5,433.7 1331.5,434.2 1333.5,433.7 1335.5,435.4 1337.5,435.6 1339.5,433.9 1341.5,433.2 1343.5,432.7 1345.5,432.5 1347.5,433.3 1349.5,434.0 1351.5,432.7 1353.5,433.9 1355.5,434.7 1357.5,433.1 1359.5,433.3 1361.5,434.2 1363.5,433.4 1365.5,433.6 1367.5,432.6 1369.5,433.0 1371.5,433.8 1373.5,431.7 1375.5,433.6 1377.5,431.8 1379.5,430.7 1381.5,431.0 1383.5,429.9 1385.5,428.6 1387.5,428.0 1389.5,428.5 1391.5,428.2 1393.5,428.6 1395.5,429.8 1397.5,432.4 1399.5,433.6 1401.5,433.8 1403.5,434.9 1405.5,435.1 1407.5,434.8 1409.5,433.6 1411.5,434.4 1413.5,434.7 1415.5,435.4 1417.5,434.2 1419.5,434.1 1421.5,434.1 1423.5,433.2 1425.5,434.1 1427.5,434.9 1429.5,434.3 1431.5,434.1 1433.5,434.9 1435.5,434.1 1437.5,434.7 1439.5,433.2 1441.5,433.8 1443.5,433.7 1445.5,433.3 1447.5,434.2 1449.5,433.8 1451.5,435.6 1453.5,435.4 1455.5,434.5 1457.5,434.9 1459.5,432.4 1461.5,432.7 1463.5,433.5 1465.5,434.3 1467.5,433.6 1469.5,432.6 1471.5,433.0 1473.5,433.2 1475.5,433.7 1477.5,432.5 1479.5,434.1 1481.5,432.0 1483.5,432.8 1485.5,433.8 1487.5,432.8 1489.5,434.0 1491.5,433.3 1493.5,434.1 1495.5,433.1 1497.5,432.7 1499.5,432.2 1501.5,433.2 1503.5,432.0 1505.5,432.9 1507.5,433.0 1509.5,432.4 1511.5,431.1 1513.5,431.0 1515.5,431.6 1517.5,432.5 1519.5,432.6 1521.5,432.1 1523.5,430.5 1525.5,429.5 1527.5,431.8 1529.5,431.9 1531.5,430.6 1533.5,430.4 1535.5,430.7 1537.5,431.7 1539.5,430.6 1541.5,430.0 1543.5,429.1 1545.5,429.7 1547.5,430.6 1549.5,430.1 1551.5,430.8 1553.5,428.6 1555.5,429.3 1557.5,431.4 1559.5,430.9 1561.5,430.3 1563.5,429.1 1565.5,431.4 1567.5,431.3 1569.5,430.2 1571.5,431.4 1573.5,429.8 1575.5,431.0 1577.5,430.4 1579.5,430.7 1581.5,430.0 1583.5,432.5 1585.5,432.4 1587.5,431.0 1589.5,433.2 1591.5,433.8 1593.5,433.4 1595.5,431.6 1597.5,433.3 1599.5,433.6 1601.5,432.0 1603.5,433.7 1605.5,434.8 1607.5,433.5 1609.5,434.2 1611.5,433.9 1613.5,435.7 1615.5,434.7 1617.5,435.1 1619.5,434.8 1621.5,434.7 1623.5,435.9 1625.5,433.8 1627.5,435.6 1629.5,435.6 1631.5,436.1 1633.5,434.0 1635.5,436.0 1637.5,435.7 1639.5,436.9 1641.5,435.9 1643.5,435.5 1645.5,436.2 1647.5,436.4 1649.5,436.4 1651.5,436.7 1653.5,434.9 1655.5,436.1 1657.5,436.4 1659.5,435.2 1661.5,435.5 1663.5,435.6 1665.5,434.8 1667.5,434.8 1669.5,435.8 1671.5,435.3 1673.5,436.3 1675.5,435.5 1677.5,436.7 1679.5,435.9 1681.5,436.8 1683.5,434.8 1685.5,435.1 1687.5,435.3 1689.5,437.2 1691.5,437.1 1693.5,437.2 1695.5,436.4 1697.5,435.7 1699.5,435.8 1701.5,436.7 1703.5,435.8 1705.5,437.2 1707.5,436.9 1709.5,437.3 1711.5,435.8 1713.5,436.5 1715.5,437.7 1717.5,437.6 1719.5,436.3 1721.5,436.6 1723.5,437.2 1725.5,435.7 1727.5,435.1 1729.5,434.8 1731.5,434.6 1733.5,435.1 1735.5,437.4 1737.5,436.1 1739.5,438.5 1741.5,438.6 1743.5,437.8 1745.5,435.7 1747.5,436.0 1749.5,437.8 1751.5,438.0 1753.5,437.0 1755.5,438.1 1757.5,436.1 1759.5,437.2 1761.5,437.7 1763.5,438.9 1765.5,438.7 1767.5,438.2 1769.5,438.1 1771.5,438.6 1773.5,437.2 1775.5,436.9 1777.5,437.6 1779.5,437.4 1781.5,436.6 1783.5,436.9 1785.5,437.8 1787.5,436.6 1789.5,437.8 1791.5,436.6 1793.5,436.5 1795.5,435.5 1797.5,437.3 1799.5,437.3 1801.5,437.1 1803.5,437.5 1805.5,436.8 1807.5,438.0 1809.5,436.2 1811.5,437.4 1813.5,436.9 1815.5,437.0 1817.5,437.0 1819.5,435.5 1821.5,436.1 1823.5,437.4 1825.5,436.8 1827.5,437.4 1829.5,436.3 1831.5,436.8 1833.5,438.1 1835.5,438.3 1837.5,436.8 1839.5,437.1 1841.5,438.3 1843.5,437.5 1845.5,436.4 1847.5,437.6 1849.5,437.3 1851.5,437.7 1853.5,437.8 1855.5,438.0 1857.5,436.5 1859.5,438.7 1861.5,437.8 1863.5,437.3 1865.5,438.4 1867.5,436.3 1869.5,436.3 1871.5,438.6 1873.5,437.3 1875.5,438.2 1877.5,437.8 1879.5,437.8 1881.5,437.2 1883.5,438.7 1885.5,438.7 1887.5,438.5 1889.5,438.2 1891.5,439.4 1893.5,436.8 1895.5,438.9 1897.5,437.5 1899.5,438.1 1901.5,437.2 1903.5,436.8 1905.5,437.4 1907.5,439.0 1909.5,437.8 1911.5,438.1 1913.5,438.2 1915.5,436.4 1917.5,437.0 1919.5,436.7 1921.5,438.0 1923.5,437.4 1925.5,439.2 1927.5,437.6 1929.5,438.8 1931.5,438.6 1933.5,437.5 1935.5,438.2 1937.5,438.5 1939.5,437.8 1941.5,437.3 1943.5,437.4 1945.5,437.3 1947.5,438.5 1949.5,436.4 1951.5,437.6 1953.5,437.5 1955.5,439.0 1957.5,437.7 1959.5,438.8 1961.5,437.5 1963.5,437.7 1965.5,438.4 1967.5,436.6 1969.5,438.2 1971.5,438.0 1973.5,438.4 1975.5,437.1 1977.5,437.6 1979.5,437.9 1981.5,437.4 1983.5,437.8 1987.0,437.8"/>
<polyline class="tr" stroke="#00c8cc" stroke-width="6" stroke-linecap="round" points="604.5,424.4 607.0,416.5 608.0,410.7 609.2,417.2 613.0,423.9"/>
<polyline class="tr" stroke="#00c8cc" stroke-width="6" stroke-linecap="round" points="988.9,429.0 991.4,420.5 992.4,414.2 993.6,421.2 997.4,428.5"/>
<polyline class="tr" stroke="#00c8cc" stroke-width="6" stroke-linecap="round" points="1071.5,429.9 1074.0,416.7 1075.0,407.4 1076.2,417.8 1080.0,429.4"/>
<polyline class="tr" stroke="#00c8cc" stroke-width="6" stroke-linecap="round" points="1541.2,430.7 1543.7,422.1 1544.7,415.9 1545.9,422.8 1549.7,430.2"/>
<polyline class="tr" stroke="#dc9a0c" stroke-width="10.5" points="139.0,554.0 141.5,554.0 143.5,553.8 145.5,554.6 147.5,554.2 149.5,554.7 151.5,556.0 153.5,554.8 155.5,555.9 157.5,556.0 159.5,555.9 161.5,555.8 163.5,555.9 165.5,556.6 167.5,555.2 169.5,556.8 171.5,557.3 173.5,556.7 175.5,556.9 177.5,557.8 179.5,557.8 181.5,558.1 183.5,559.6 185.5,559.5 187.5,560.2 189.5,559.5 191.5,560.2 193.5,560.3 195.5,560.9 197.5,560.3 199.5,560.9 201.5,561.7 203.5,560.5 205.5,561.6 207.5,561.1 209.5,561.6 211.5,561.1 213.5,562.2 215.5,561.4 217.5,561.3 219.5,560.4 221.5,560.8 223.5,560.7 225.5,561.4 227.5,562.3 229.5,561.7 231.5,563.1 233.5,562.2 235.5,563.4 237.5,562.7 239.5,560.5 241.5,559.2 243.5,560.3 245.5,563.1 247.5,563.7 249.5,563.6 251.5,565.0 253.5,566.4 255.5,567.1 257.5,566.2 259.5,566.3 261.5,567.7 263.5,566.6 265.5,568.3 267.5,566.8 269.5,567.2 271.5,569.0 273.5,566.9 275.5,568.3 277.5,567.3 279.5,568.0 281.5,568.0 283.5,568.7 285.5,568.4 287.5,570.4 289.5,569.1 291.5,570.1 293.5,569.9 295.5,570.5 297.5,570.5 299.5,570.6 301.5,570.2 303.5,569.9 305.5,568.9 307.5,568.2 309.5,570.1 311.5,569.8 313.5,568.4 315.5,568.7 317.5,569.3 319.5,569.2 321.5,570.0 323.5,569.5 325.5,569.0 327.5,570.0 329.5,569.1 331.5,571.4 333.5,571.8 335.5,571.7 337.5,569.8 339.5,570.1 341.5,570.2 343.5,570.9 345.5,570.1 347.5,571.1 349.5,571.4 351.5,571.7 353.5,571.3 355.5,569.6 357.5,571.8 359.5,570.6 361.5,572.3 363.5,569.5 365.5,569.4 367.5,571.1 369.5,571.2 371.5,572.3 373.5,571.9 375.5,570.3 377.5,570.1 379.5,571.3 381.5,570.0 383.5,569.4 385.5,569.5 387.5,568.5 389.5,569.9 391.5,569.9 393.5,568.9 395.5,569.9 397.5,570.4 399.5,569.3 401.5,570.2 403.5,570.9 405.5,569.7 407.5,570.2 409.5,570.1 411.5,570.1 413.5,570.1 415.5,569.2 417.5,569.8 419.5,571.3 421.5,571.3 423.5,570.5 425.5,569.7 427.5,569.9 429.5,569.3 431.5,568.6 433.5,568.9 435.5,568.9 437.5,569.1 439.5,568.6 441.5,567.9 443.5,569.5 445.5,567.8 447.5,568.5 449.5,568.5 451.5,566.9 453.5,569.2 455.5,568.8 457.5,569.8 459.5,567.5 461.5,568.2 463.5,569.7 465.5,567.9 467.5,568.9 469.5,569.3 471.5,569.4 473.5,567.6 475.5,567.9 477.5,570.0 479.5,567.7 481.5,568.4 483.5,568.9 485.5,567.1 487.5,569.0 489.5,567.6 491.5,568.3 493.5,568.9 495.5,567.9 497.5,567.4 499.5,567.9 501.5,567.8 503.5,568.5 505.5,567.1 507.5,567.7 509.5,567.8 511.5,568.5 513.5,568.4 515.5,568.9 517.5,568.6 519.5,567.7 521.5,568.2 523.5,566.5 525.5,567.5 527.5,566.1 529.5,568.0 531.5,568.1 533.5,567.4 535.5,566.9 537.5,565.9 539.5,565.7 541.5,566.2 543.5,564.6 545.5,564.7 547.5,562.3 549.5,563.6 551.5,562.6 553.5,559.5 555.5,558.7 557.5,555.8 559.5,555.9 561.5,555.0 563.5,555.9 565.5,555.8 567.5,555.3 569.5,557.2 571.5,557.9 573.5,555.6 575.5,556.4 577.5,557.0 579.5,558.1 581.5,559.0 583.5,560.4 585.5,560.3 587.5,562.5 589.5,562.8 591.5,565.0 593.5,564.0 595.5,566.1 597.5,565.4 599.5,565.7 601.5,566.2 603.5,565.0 605.5,564.2 607.5,564.7 609.5,564.8 611.5,563.4 613.5,564.1 615.5,564.1 617.5,563.5 619.5,563.1 621.5,564.7 623.5,562.7 625.5,564.9 627.5,566.0 629.5,565.4 631.5,566.9 633.5,566.0 635.5,565.8 637.5,567.4 639.5,566.1 641.5,566.1 643.5,566.4 645.5,565.9 647.5,567.2 649.5,565.7 651.5,566.9 653.5,566.6 655.5,565.9 657.5,565.8 659.5,565.6 661.5,565.1 663.5,565.1 665.5,566.3 667.5,565.2 669.5,564.6 671.5,565.4 673.5,565.7 675.5,565.4 677.5,565.6 679.5,565.1 681.5,566.5 683.5,564.8 685.5,565.6 687.5,565.7 689.5,565.8 691.5,565.8 693.5,564.3 695.5,566.3 697.5,565.1 699.5,565.7 701.5,564.6 703.5,564.9 705.5,565.0 707.5,565.0 709.5,566.6 711.5,566.4 713.5,565.1 715.5,565.4 717.5,564.5 719.5,566.6 721.5,565.8 723.5,566.9 725.5,566.8 727.5,564.9 729.5,566.3 731.5,566.3 733.5,564.4 735.5,563.5 737.5,563.1 739.5,562.6 741.5,562.3 743.5,562.5 745.5,562.6 747.5,563.0 749.5,562.7 751.5,562.8 753.5,559.8 755.5,560.1 757.5,559.4 759.5,560.6 761.5,559.4 763.5,557.3 765.5,559.5 767.5,561.3 769.5,562.0 771.5,563.8 773.5,563.5 775.5,565.0 777.5,565.1 779.5,565.0 781.5,565.1 783.5,564.0 785.5,564.3 787.5,564.9 789.5,565.1 791.5,565.1 793.5,564.2 795.5,564.8 797.5,564.4 799.5,566.1 801.5,565.2 803.5,565.5 805.5,566.8 807.5,566.2 809.5,565.0 811.5,566.0 813.5,567.7 815.5,566.7 817.5,567.6 819.5,568.6 821.5,567.5 823.5,567.6 825.5,568.1 827.5,567.3 829.5,569.9 831.5,570.7 833.5,570.3 835.5,572.0 837.5,572.5 839.5,573.1 841.5,572.9 843.5,572.8 845.5,572.0 847.5,572.0 849.5,572.6 851.5,571.4 853.5,572.9 855.5,571.9 857.5,573.0 859.5,571.8 861.5,574.1 863.5,574.8 865.5,573.6 867.5,575.5 869.5,574.7 871.5,574.6 873.5,575.2 875.5,575.9 877.5,576.9 879.5,574.4 881.5,575.9 883.5,576.4 885.5,575.3 887.5,575.1 889.5,574.8 891.5,574.2 893.5,575.3 895.5,575.1 897.5,576.2 899.5,575.8 901.5,575.5 903.5,574.9 905.5,575.9 907.5,575.2 909.5,574.5 911.5,575.8 913.5,576.2 915.5,575.3 917.5,575.1 919.5,574.9 921.5,574.3 923.5,575.3 925.5,576.0 927.5,574.5 929.5,574.5 931.5,575.5 933.5,574.4 935.5,574.0 937.5,574.2 939.5,574.3 941.5,573.0 943.5,574.6 945.5,575.1 947.5,574.1 949.5,574.3 951.5,573.3 953.5,574.8 955.5,573.3 957.5,574.9 959.5,572.9 961.5,574.4 963.5,572.6 965.5,572.8 967.5,572.8 969.5,573.3 971.5,573.2 973.5,573.6 975.5,572.2 977.5,573.7 979.5,574.5 981.5,573.3 983.5,573.1 985.5,573.7 987.5,575.2 989.5,573.9 991.5,573.1 993.5,569.5 995.5,570.2 997.5,569.0 999.5,568.8 1001.5,571.7 1003.5,572.0 1005.5,574.7 1007.5,574.4 1009.5,575.2 1011.5,576.8 1013.5,574.7 1015.5,576.2 1017.5,575.0 1019.5,574.9 1021.5,575.9 1023.5,576.8 1025.5,575.0 1027.5,574.7 1029.5,577.0 1031.5,577.4 1033.5,576.3 1035.5,576.2 1037.5,575.8 1039.5,578.3 1041.5,575.7 1043.5,577.4 1045.5,577.8 1047.5,576.7 1049.5,577.0 1051.5,578.5 1053.5,578.5 1055.5,577.5 1057.5,577.5 1059.5,576.0 1061.5,575.5 1063.5,577.1 1065.5,575.7 1067.5,576.8 1069.5,577.6 1071.5,577.9 1073.5,576.9 1075.5,577.8 1077.5,576.2 1079.5,576.8 1081.5,576.8 1083.5,575.8 1085.5,575.6 1087.5,575.7 1089.5,575.9 1091.5,575.2 1093.5,577.5 1095.5,577.5 1097.5,577.2 1099.5,575.5 1101.5,578.2 1103.5,576.9 1105.5,577.2 1107.5,578.1 1109.5,577.6 1111.5,576.7 1113.5,576.0 1115.5,577.6 1117.5,578.0 1119.5,577.3 1121.5,577.9 1123.5,577.8 1125.5,577.2 1127.5,577.0 1129.5,577.4 1131.5,577.3 1133.5,576.4 1135.5,576.0 1137.5,577.2 1139.5,576.7 1141.5,576.4 1143.5,575.7 1145.5,577.3 1147.5,576.1 1149.5,575.9 1151.5,575.5 1153.5,577.2 1155.5,576.5 1157.5,575.9 1159.5,576.6 1161.5,577.5 1163.5,577.4 1165.5,576.5 1167.5,578.0 1169.5,576.0 1171.5,576.6 1173.5,578.5 1175.5,576.4 1177.5,576.8 1179.5,578.2 1181.5,577.9 1183.5,577.0 1185.5,576.7 1187.5,578.6 1189.5,577.9 1191.5,575.8 1193.5,576.4 1195.5,577.9 1197.5,577.5 1199.5,576.8 1201.5,576.8 1203.5,577.6 1205.5,577.4 1207.5,576.9 1209.5,577.7 1211.5,577.9 1213.5,577.7 1215.5,577.1 1217.5,576.5 1219.5,576.2 1221.5,578.0 1223.5,577.0 1225.5,577.4 1227.5,576.7 1229.5,577.9 1231.5,576.4 1233.5,577.4 1235.5,576.7 1237.5,576.3 1239.5,576.7 1241.5,575.3 1243.5,575.8 1245.5,576.8 1247.5,576.5 1249.5,576.6 1251.5,577.6 1253.5,576.0 1255.5,575.1 1257.5,576.3 1259.5,575.3 1261.5,577.0 1263.5,576.1 1265.5,575.2 1267.5,577.6 1269.5,578.1 1271.5,577.9 1273.5,575.7 1275.5,575.4 1277.5,575.6 1279.5,575.9 1281.5,573.7 1283.5,573.9 1285.5,574.4 1287.5,573.6 1289.5,573.6 1291.5,575.4 1293.5,575.8 1295.5,575.2 1297.5,574.0 1299.5,574.8 1301.5,576.8 1303.5,575.2 1305.5,576.3 1307.5,577.3 1309.5,576.2 1311.5,577.3 1313.5,577.3 1315.5,577.3 1317.5,578.2 1319.5,577.5 1321.5,577.9 1323.5,576.5 1325.5,578.1 1327.5,577.5 1329.5,577.2 1331.5,576.8 1333.5,577.1 1335.5,577.1 1337.5,578.4 1339.5,578.2 1341.5,579.0 1343.5,579.8 1345.5,579.2 1347.5,578.3 1349.5,578.6 1351.5,578.2 1353.5,578.5 1355.5,578.8 1357.5,576.6 1359.5,576.7 1361.5,576.7 1363.5,578.7 1365.5,579.7 1367.5,580.1 1369.5,579.4 1371.5,579.3 1373.5,577.9 1375.5,578.5 1377.5,577.8 1379.5,578.3 1381.5,576.8 1383.5,577.7 1385.5,577.4 1387.5,577.2 1389.5,577.0 1391.5,575.9 1393.5,576.5 1395.5,575.1 1397.5,576.0 1399.5,575.5 1401.5,575.1 1403.5,577.4 1405.5,578.3 1407.5,578.4 1409.5,576.6 1411.5,576.9 1413.5,579.0 1415.5,577.4 1417.5,578.8 1419.5,577.3 1421.5,578.3 1423.5,578.0 1425.5,576.6 1427.5,577.6 1429.5,577.0 1431.5,576.3 1433.5,578.7 1435.5,578.7 1437.5,577.4 1439.5,577.0 1441.5,578.1 1443.5,578.3 1445.5,577.7 1447.5,577.0 1449.5,578.0 1451.5,577.2 1453.5,577.0 1455.5,577.3 1457.5,577.6 1459.5,577.8 1461.5,578.2 1463.5,578.9 1465.5,579.5 1467.5,578.5 1469.5,579.2 1471.5,578.1 1473.5,578.8 1475.5,576.6 1477.5,578.5 1479.5,578.2 1481.5,576.9 1483.5,577.5 1485.5,578.6 1487.5,577.6 1489.5,579.6 1491.5,577.8 1493.5,577.4 1495.5,578.2 1497.5,577.8 1499.5,577.6 1501.5,578.0 1503.5,576.9 1505.5,578.8 1507.5,577.1 1509.5,576.9 1511.5,575.8 1513.5,576.7 1515.5,576.4 1517.5,575.7 1519.5,575.7 1521.5,576.4 1523.5,576.8 1525.5,577.0 1527.5,576.7 1529.5,577.3 1531.5,576.7 1533.5,576.8 1535.5,576.2 1537.5,576.5 1539.5,577.0 1541.5,577.3 1543.5,576.1 1545.5,577.9 1547.5,577.2 1549.5,576.4 1551.5,575.8 1553.5,577.6 1555.5,577.3 1557.5,576.6 1559.5,576.3 1561.5,576.1 1563.5,575.5 1565.5,576.1 1567.5,573.8 1569.5,573.9 1571.5,574.1 1573.5,575.5 1575.5,574.1 1577.5,575.5 1579.5,575.9 1581.5,577.5 1583.5,575.8 1585.5,577.1 1587.5,578.7 1589.5,577.1 1591.5,578.9 1593.5,577.6 1595.5,579.0 1597.5,578.1 1599.5,578.7 1601.5,578.1 1603.5,576.8 1605.5,576.6 1607.5,577.5 1609.5,578.5 1611.5,579.7 1613.5,577.7 1615.5,579.2 1617.5,578.0 1619.5,578.7 1621.5,579.5 1623.5,578.7 1625.5,580.4 1627.5,580.9 1629.5,578.6 1631.5,581.2 1633.5,579.5 1635.5,579.7 1637.5,579.6 1639.5,580.3 1641.5,581.6 1643.5,581.5 1645.5,579.6 1647.5,580.8 1649.5,580.8 1651.5,581.1 1653.5,582.1 1655.5,581.4 1657.5,579.5 1659.5,579.2 1661.5,579.7 1663.5,581.0 1665.5,579.8 1667.5,580.6 1669.5,581.0 1671.5,580.0 1673.5,580.6 1675.5,580.8 1677.5,580.4 1679.5,581.6 1681.5,580.0 1683.5,580.9 1685.5,581.0 1687.5,580.8 1689.5,579.2 1691.5,579.2 1693.5,579.1 1695.5,581.5 1697.5,581.0 1699.5,580.9 1701.5,579.2 1703.5,580.8 1705.5,578.7 1707.5,581.2 1709.5,579.8 1711.5,580.7 1713.5,580.3 1715.5,581.8 1717.5,581.5 1719.5,581.2 1721.5,580.7 1723.5,582.1 1725.5,579.9 1727.5,581.9 1729.5,580.1 1731.5,580.6 1733.5,579.8 1735.5,581.5 1737.5,580.9 1739.5,582.2 1741.5,580.1 1743.5,581.4 1745.5,581.9 1747.5,580.4 1749.5,580.9 1751.5,581.7 1753.5,579.6 1755.5,579.5 1757.5,580.8 1759.5,581.0 1761.5,580.7 1763.5,581.6 1765.5,581.4 1767.5,581.0 1769.5,581.5 1771.5,581.5 1773.5,581.9 1775.5,581.4 1777.5,581.3 1779.5,581.3 1781.5,580.2 1783.5,579.8 1785.5,579.8 1787.5,579.9 1789.5,581.4 1791.5,582.8 1793.5,582.3 1795.5,581.4 1797.5,582.0 1799.5,581.5 1801.5,582.7 1803.5,581.0 1805.5,581.7 1807.5,582.3 1809.5,582.8 1811.5,583.2 1813.5,582.4 1815.5,581.6 1817.5,580.8 1819.5,582.6 1821.5,580.4 1823.5,581.1 1825.5,580.2 1827.5,580.0 1829.5,581.8 1831.5,582.3 1833.5,581.7 1835.5,582.7 1837.5,581.8 1839.5,581.2 1841.5,581.1 1843.5,581.0 1845.5,580.9 1847.5,580.2 1849.5,582.4 1851.5,581.9 1853.5,581.5 1855.5,581.7 1857.5,582.7 1859.5,581.2 1861.5,581.1 1863.5,581.5 1865.5,582.7 1867.5,583.5 1869.5,582.0 1871.5,582.6 1873.5,581.6 1875.5,581.9 1877.5,582.4 1879.5,581.3 1881.5,582.0 1883.5,580.3 1885.5,580.8 1887.5,581.6 1889.5,582.1 1891.5,581.6 1893.5,580.9 1895.5,580.0 1897.5,579.6 1899.5,582.1 1901.5,581.8 1903.5,580.4 1905.5,582.2 1907.5,582.4 1909.5,581.3 1911.5,581.6 1913.5,581.3 1915.5,580.1 1917.5,580.8 1919.5,580.6 1921.5,582.3 1923.5,582.9 1925.5,580.9 1927.5,581.1 1929.5,581.8 1931.5,583.0 1933.5,583.4 1935.5,583.1 1937.5,582.5 1939.5,584.1 1941.5,583.3 1943.5,583.5 1945.5,581.6 1947.5,581.7 1949.5,582.2 1951.5,580.9 1953.5,581.3 1955.5,581.8 1957.5,581.7 1959.5,581.2 1961.5,581.4 1963.5,583.4 1965.5,582.1 1967.5,583.0 1969.5,582.6 1971.5,582.5 1973.5,583.0 1975.5,582.0 1977.5,581.4 1979.5,583.6 1981.5,583.2 1983.5,582.9 1987.0,582.9"/>
<polyline class="tr" stroke="#dc9a0c" stroke-width="6" stroke-linecap="round" points="1923.5,582.0 1926.0,580.2 1927.0,578.5 1928.2,580.4 1932.0,581.5"/>
<polyline class="tr" stroke="#c078e0" stroke-width="10.5" points="139.0,690.7 141.5,690.7 143.5,688.7 145.5,689.0 147.5,690.8 149.5,689.5 151.5,689.3 153.5,689.3 155.5,689.2 157.5,689.9 159.5,689.5 161.5,690.9 163.5,691.1 165.5,691.5 167.5,690.3 169.5,692.0 171.5,691.2 173.5,690.6 175.5,692.1 177.5,692.6 179.5,692.3 181.5,691.6 183.5,691.2 185.5,690.4 187.5,691.2 189.5,693.2 191.5,692.2 193.5,694.2 195.5,693.8 197.5,692.9 199.5,693.7 201.5,694.1 203.5,693.9 205.5,692.7 207.5,692.8 209.5,693.3 211.5,693.8 213.5,693.0 215.5,693.9 217.5,693.5 219.5,693.7 221.5,693.5 223.5,695.1 225.5,695.5 227.5,695.2 229.5,693.6 231.5,693.4 233.5,695.7 235.5,695.8 237.5,694.7 239.5,694.3 241.5,695.6 243.5,694.2 245.5,694.6 247.5,695.1 249.5,696.5 251.5,695.1 253.5,695.5 255.5,695.5 257.5,696.1 259.5,696.5 261.5,696.8 263.5,697.3 265.5,695.8 267.5,695.7 269.5,696.0 271.5,697.0 273.5,696.5 275.5,697.7 277.5,697.1 279.5,695.4 281.5,697.3 283.5,698.4 285.5,698.6 287.5,696.9 289.5,698.1 291.5,698.5 293.5,697.9 295.5,698.0 297.5,698.0 299.5,699.4 301.5,697.9 303.5,698.7 305.5,698.2 307.5,699.1 309.5,698.4 311.5,697.9 313.5,699.4 315.5,700.1 317.5,699.1 319.5,698.6 321.5,699.2 323.5,698.7 325.5,698.7 327.5,698.8 329.5,699.4 331.5,698.2 333.5,698.3 335.5,698.4 337.5,697.2 339.5,697.0 341.5,696.5 343.5,694.8 345.5,696.4 347.5,698.4 349.5,699.8 351.5,700.7 353.5,700.8 355.5,699.7 357.5,701.2 359.5,699.4 361.5,699.8 363.5,699.7 365.5,699.0 367.5,700.8 369.5,700.2 371.5,700.2 373.5,701.7 375.5,699.8 377.5,700.9 379.5,700.7 381.5,700.9 383.5,702.1 385.5,700.4 387.5,701.0 389.5,701.8 391.5,701.9 393.5,701.8 395.5,702.1 397.5,701.3 399.5,701.2 401.5,701.9 403.5,701.5 405.5,699.8 407.5,700.1 409.5,699.6 411.5,700.2 413.5,702.3 415.5,702.5 417.5,700.6 419.5,702.4 421.5,701.5 423.5,700.8 425.5,701.4 427.5,700.7 429.5,700.7 431.5,702.0 433.5,700.7 435.5,701.3 437.5,701.5 439.5,701.5 441.5,701.0 443.5,702.3 445.5,701.5 447.5,702.6 449.5,700.6 451.5,702.3 453.5,701.8 455.5,701.7 457.5,701.1 459.5,701.3 461.5,702.7 463.5,701.6 465.5,703.2 467.5,703.0 469.5,701.1 471.5,702.6 473.5,701.2 475.5,701.1 477.5,702.6 479.5,703.5 481.5,703.4 483.5,703.3 485.5,702.5 487.5,701.9 489.5,702.9 491.5,702.0 493.5,701.9 495.5,701.5 497.5,701.5 499.5,699.5 501.5,701.0 503.5,701.2 505.5,700.7 507.5,700.6 509.5,701.6 511.5,700.6 513.5,700.3 515.5,699.0 517.5,699.7 519.5,700.7 521.5,699.6 523.5,700.3 525.5,701.1 527.5,700.5 529.5,700.6 531.5,700.2 533.5,698.2 535.5,697.9 537.5,697.6 539.5,697.7 541.5,698.8 543.5,699.1 545.5,698.4 547.5,697.5 549.5,698.0 551.5,697.3 553.5,694.1 555.5,692.6 557.5,690.8 559.5,689.4 561.5,689.4 563.5,688.7 565.5,689.8 567.5,689.6 569.5,689.5 571.5,689.3 573.5,688.5 575.5,690.4 577.5,690.8 579.5,690.7 581.5,691.1 583.5,691.7 585.5,692.7 587.5,693.6 589.5,694.4 591.5,696.4 593.5,697.9 595.5,699.6 597.5,698.8 599.5,697.9 601.5,698.5 603.5,697.5 605.5,698.3 607.5,699.2 609.5,700.7 611.5,699.7 613.5,702.7 615.5,701.8 617.5,700.9 619.5,700.9 621.5,702.0 623.5,702.2 625.5,702.2 627.5,702.2 629.5,702.7 631.5,700.8 633.5,702.4 635.5,701.2 637.5,700.5 639.5,700.8 641.5,699.9 643.5,700.3 645.5,701.8 647.5,702.0 649.5,700.0 651.5,700.4 653.5,701.7 655.5,701.1 657.5,700.9 659.5,699.8 661.5,699.8 663.5,700.4 665.5,700.5 667.5,700.0 669.5,701.1 671.5,700.8 673.5,701.1 675.5,701.1 677.5,698.6 679.5,698.8 681.5,700.0 683.5,699.9 685.5,700.5 687.5,700.0 689.5,698.7 691.5,698.6 693.5,697.9 695.5,699.2 697.5,697.8 699.5,697.6 701.5,698.3 703.5,698.4 705.5,699.4 707.5,699.3 709.5,699.0 711.5,698.7 713.5,698.6 715.5,696.9 717.5,698.8 719.5,698.1 721.5,696.8 723.5,698.3 725.5,698.8 727.5,697.8 729.5,698.3 731.5,697.3 733.5,698.1 735.5,696.4 737.5,698.3 739.5,698.0 741.5,698.4 743.5,697.8 745.5,698.6 747.5,696.2 749.5,698.2 751.5,699.0 753.5,698.2 755.5,696.0 757.5,695.7 759.5,695.3 761.5,695.3 763.5,695.7 765.5,696.0 767.5,695.5 769.5,696.2 771.5,696.0 773.5,697.2 775.5,698.8 777.5,697.4 779.5,698.5 781.5,697.7 783.5,698.2 785.5,697.1 787.5,698.1 789.5,697.6 791.5,699.3 793.5,699.0 795.5,698.1 797.5,698.7 799.5,699.5 801.5,700.4 803.5,699.8 805.5,698.4 807.5,700.1 809.5,699.0 811.5,700.1 813.5,701.6 815.5,701.2 817.5,699.1 819.5,701.5 821.5,700.4 823.5,702.5 825.5,701.7 827.5,701.4 829.5,702.9 831.5,703.3 833.5,701.6 835.5,702.2 837.5,700.2 839.5,701.8 841.5,701.7 843.5,702.0 845.5,704.2 847.5,702.8 849.5,704.0 851.5,703.1 853.5,704.1 855.5,702.6 857.5,703.1 859.5,704.6 861.5,704.1 863.5,702.9 865.5,703.1 867.5,703.0 869.5,703.6 871.5,704.4 873.5,704.0 875.5,705.7 877.5,706.4 879.5,706.7 881.5,706.5 883.5,705.2 885.5,705.4 887.5,703.4 889.5,705.4 891.5,704.8 893.5,706.3 895.5,704.1 897.5,703.2 899.5,704.1 901.5,704.9 903.5,705.2 905.5,704.0 907.5,705.4 909.5,705.8 911.5,706.0 913.5,704.9 915.5,705.1 917.5,704.0 919.5,703.8 921.5,703.8 923.5,703.7 925.5,704.9 927.5,703.4 929.5,704.8 931.5,703.2 933.5,703.7 935.5,705.0 937.5,703.9 939.5,703.0 941.5,704.0 943.5,703.9 945.5,703.2 947.5,702.8 949.5,704.2 951.5,704.5 953.5,704.4 955.5,703.1 957.5,704.3 959.5,703.0 961.5,702.8 963.5,703.1 965.5,703.5 967.5,703.5 969.5,704.2 971.5,703.2 973.5,702.3 975.5,703.3 977.5,703.3 979.5,701.7 981.5,703.0 983.5,703.3 985.5,702.0 987.5,702.0 989.5,699.5 991.5,698.6 993.5,696.4 995.5,698.6 997.5,701.1 999.5,702.7 1001.5,702.7 1003.5,703.8 1005.5,704.1 1007.5,705.4 1009.5,704.4 1011.5,705.2 1013.5,705.1 1015.5,705.1 1017.5,704.1 1019.5,704.1 1021.5,704.1 1023.5,704.5 1025.5,706.2 1027.5,704.3 1029.5,704.7 1031.5,706.2 1033.5,704.4 1035.5,705.1 1037.5,706.1 1039.5,704.0 1041.5,704.7 1043.5,705.0 1045.5,704.3 1047.5,704.9 1049.5,705.6 1051.5,705.0 1053.5,705.8 1055.5,705.2 1057.5,704.4 1059.5,706.2 1061.5,705.3 1063.5,706.1 1065.5,703.5 1067.5,703.9 1069.5,703.7 1071.5,705.6 1073.5,703.0 1075.5,704.3 1077.5,703.2 1079.5,703.2 1081.5,703.0 1083.5,704.8 1085.5,704.5 1087.5,703.2 1089.5,704.5 1091.5,704.6 1093.5,705.3 1095.5,705.4 1097.5,703.9 1099.5,705.0 1101.5,704.2 1103.5,703.7 1105.5,703.3 1107.5,703.1 1109.5,704.6 1111.5,705.4 1113.5,704.1 1115.5,704.5 1117.5,703.6 1119.5,704.4 1121.5,702.3 1123.5,702.4 1125.5,702.8 1127.5,704.2 1129.5,705.1 1131.5,703.6 1133.5,705.0 1135.5,705.1 1137.5,704.6 1139.5,706.9 1141.5,706.0 1143.5,706.0 1145.5,704.7 1147.5,704.8 1149.5,706.7 1151.5,706.5 1153.5,705.9 1155.5,706.5 1157.5,706.1 1159.5,705.6 1161.5,704.6 1163.5,706.0 1165.5,704.7 1167.5,705.3 1169.5,705.6 1171.5,706.5 1173.5,705.6 1175.5,706.6 1177.5,705.6 1179.5,705.8 1181.5,705.7 1183.5,705.9 1185.5,705.6 1187.5,704.7 1189.5,706.9 1191.5,705.4 1193.5,706.3 1195.5,706.9 1197.5,705.4 1199.5,705.6 1201.5,706.6 1203.5,705.4 1205.5,706.7 1207.5,707.1 1209.5,705.6 1211.5,706.9 1213.5,706.2 1215.5,706.1 1217.5,705.4 1219.5,706.3 1221.5,704.8 1223.5,706.8 1225.5,706.9 1227.5,707.4 1229.5,706.8 1231.5,707.2 1233.5,706.6 1235.5,706.7 1237.5,706.1 1239.5,705.9 1241.5,705.9 1243.5,707.2 1245.5,707.3 1247.5,705.7 1249.5,706.3 1251.5,707.0 1253.5,706.9 1255.5,707.1 1257.5,705.8 1259.5,705.5 1261.5,703.8 1263.5,705.3 1265.5,705.2 1267.5,704.5 1269.5,705.3 1271.5,703.8 1273.5,704.7 1275.5,704.6 1277.5,703.0 1279.5,703.3 1281.5,701.0 1283.5,699.1 1285.5,698.1 1287.5,699.7 1289.5,699.3 1291.5,698.2 1293.5,700.9 1295.5,700.6 1297.5,699.8 1299.5,701.0 1301.5,702.7 1303.5,703.3 1305.5,704.0 1307.5,704.7 1309.5,705.7 1311.5,706.3 1313.5,705.4 1315.5,706.3 1317.5,706.5 1319.5,707.4 1321.5,706.0 1323.5,706.3 1325.5,706.4 1327.5,707.3 1329.5,707.0 1331.5,706.6 1333.5,706.7 1335.5,707.0 1337.5,707.5 1339.5,705.9 1341.5,706.4 1343.5,706.8 1345.5,706.6 1347.5,706.7 1349.5,705.7 1351.5,707.0 1353.5,706.1 1355.5,707.5 1357.5,707.9 1359.5,705.6 1361.5,706.9 1363.5,706.0 1365.5,706.5 1367.5,705.7 1369.5,706.1 1371.5,704.8 1373.5,704.6 1375.5,704.1 1377.5,704.5 1379.5,705.1 1381.5,704.0 1383.5,704.0 1385.5,702.4 1387.5,702.7 1389.5,704.4 1391.5,704.7 1393.5,704.8 1395.5,705.4 1397.5,707.3 1399.5,707.4 1401.5,706.6 1403.5,708.4 1405.5,707.5 1407.5,707.4 1409.5,707.6 1411.5,708.0 1413.5,709.5 1415.5,707.5 1417.5,707.8 1419.5,708.0 1421.5,707.9 1423.5,708.1 1425.5,706.7 1427.5,707.6 1429.5,706.6 1431.5,706.1 1433.5,705.7 1435.5,705.9 1437.5,707.0 1439.5,707.7 1441.5,705.8 1443.5,707.1 1445.5,706.0 1447.5,706.5 1449.5,707.6 1451.5,707.7 1453.5,707.4 1455.5,708.2 1457.5,707.4 1459.5,708.0 1461.5,706.9 1463.5,707.7 1465.5,706.7 1467.5,707.7 1469.5,706.8 1471.5,706.2 1473.5,707.3 1475.5,706.1 1477.5,706.8 1479.5,707.5 1481.5,705.4 1483.5,706.6 1485.5,707.9 1487.5,708.3 1489.5,708.4 1491.5,706.9 1493.5,706.6 1495.5,707.9 1497.5,706.7 1499.5,705.5 1501.5,705.4 1503.5,707.2 1505.5,706.3 1507.5,706.3 1509.5,706.2 1511.5,707.1 1513.5,707.4 1515.5,707.7 1517.5,707.5 1519.5,707.2 1521.5,706.5 1523.5,705.6 1525.5,706.1 1527.5,705.1 1529.5,707.3 1531.5,705.9 1533.5,706.6 1535.5,705.9 1537.5,705.3 1539.5,706.0 1541.5,704.7 1543.5,706.7 1545.5,706.5 1547.5,704.5 1549.5,705.2 1551.5,704.6 1553.5,705.0 1555.5,705.0 1557.5,706.0 1559.5,705.2 1561.5,705.6 1563.5,705.4 1565.5,703.4 1567.5,703.8 1569.5,703.7 1571.5,705.1 1573.5,704.9 1575.5,706.4 1577.5,705.7 1579.5,705.9 1581.5,705.0 1583.5,706.8 1585.5,706.7 1587.5,704.2 1589.5,704.0 1591.5,705.8 1593.5,706.7 1595.5,705.2 1597.5,705.2 1599.5,704.3 1601.5,704.4 1603.5,705.0 1605.5,706.0 1607.5,705.2 1609.5,707.2 1611.5,706.2 1613.5,706.1 1615.5,706.1 1617.5,707.7 1619.5,706.6 1621.5,706.5 1623.5,707.1 1625.5,706.2 1627.5,705.9 1629.5,705.2 1631.5,706.9 1633.5,706.4 1635.5,706.7 1637.5,706.7 1639.5,707.0 1641.5,707.5 1643.5,707.6 1645.5,708.6 1647.5,707.0 1649.5,706.6 1651.5,708.2 1653.5,708.2 1655.5,707.7 1657.5,707.1 1659.5,706.6 1661.5,707.9 1663.5,706.9 1665.5,707.4 1667.5,708.9 1669.5,709.3 1671.5,707.8 1673.5,710.2 1675.5,709.8 1677.5,708.8 1679.5,708.6 1681.5,709.3 1683.5,707.7 1685.5,708.9 1687.5,707.8 1689.5,707.9 1691.5,709.6 1693.5,709.0 1695.5,707.8 1697.5,709.3 1699.5,707.5 1701.5,709.0 1703.5,708.6 1705.5,708.4 1707.5,708.1 1709.5,707.3 1711.5,708.3 1713.5,708.1 1715.5,707.7 1717.5,707.8 1719.5,708.0 1721.5,709.8 1723.5,708.3 1725.5,708.0 1727.5,709.2 1729.5,708.0 1731.5,709.7 1733.5,708.5 1735.5,707.4 1737.5,708.3 1739.5,707.9 1741.5,709.4 1743.5,707.6 1745.5,708.0 1747.5,707.9 1749.5,708.2 1751.5,709.8 1753.5,709.5 1755.5,709.2 1757.5,709.0 1759.5,708.5 1761.5,709.8 1763.5,709.0 1765.5,709.6 1767.5,708.6 1769.5,709.0 1771.5,710.3 1773.5,708.5 1775.5,711.2 1777.5,710.6 1779.5,709.9 1781.5,710.5 1783.5,709.1 1785.5,710.5 1787.5,709.9 1789.5,709.5 1791.5,709.8 1793.5,710.4 1795.5,710.3 1797.5,709.1 1799.5,709.4 1801.5,711.2 1803.5,711.3 1805.5,709.6 1807.5,711.1 1809.5,709.2 1811.5,709.7 1813.5,710.2 1815.5,711.5 1817.5,710.1 1819.5,709.5 1821.5,711.2 1823.5,711.4 1825.5,710.3 1827.5,710.0 1829.5,709.9 1831.5,709.7 1833.5,710.0 1835.5,710.1 1837.5,710.3 1839.5,710.1 1841.5,709.9 1843.5,709.5 1845.5,708.9 1847.5,709.2 1849.5,709.6 1851.5,710.1 1853.5,709.2 1855.5,711.1 1857.5,710.3 1859.5,709.4 1861.5,710.4 1863.5,709.9 1865.5,710.6 1867.5,710.9 1869.5,710.8 1871.5,711.3 1873.5,710.7 1875.5,710.1 1877.5,710.7 1879.5,711.4 1881.5,711.3 1883.5,711.3 1885.5,711.3 1887.5,712.1 1889.5,710.7 1891.5,710.5 1893.5,710.1 1895.5,710.7 1897.5,710.6 1899.5,711.9 1901.5,711.3 1903.5,711.5 1905.5,710.8 1907.5,711.8 1909.5,711.0 1911.5,713.2 1913.5,711.0 1915.5,710.9 1917.5,712.5 1919.5,711.2 1921.5,711.4 1923.5,713.0 1925.5,711.4 1927.5,711.6 1929.5,713.6 1931.5,711.2 1933.5,711.9 1935.5,711.6 1937.5,711.3 1939.5,712.7 1941.5,711.7 1943.5,712.8 1945.5,710.9 1947.5,712.4 1949.5,712.3 1951.5,710.9 1953.5,711.5 1955.5,712.2 1957.5,712.7 1959.5,711.9 1961.5,712.4 1963.5,713.8 1965.5,713.3 1967.5,713.4 1969.5,711.3 1971.5,712.5 1973.5,711.1 1975.5,711.7 1977.5,713.1 1979.5,711.2 1981.5,710.8 1983.5,710.2 1987.0,710.2"/>
<polyline class="tr" stroke="#00b06e" stroke-width="9.5" points="139.0,840.3 141.5,840.3 143.5,841.2 145.5,839.9 147.5,841.5 149.5,840.6 151.5,840.5 153.5,841.0 155.5,840.3 157.5,841.3 159.5,840.8 161.5,840.5 163.5,840.9 165.5,840.7 167.5,841.8 169.5,840.7 171.5,841.2 173.5,841.5 175.5,841.4 177.5,843.3 179.5,842.8 181.5,844.0 183.5,842.3 185.5,841.4 187.5,840.6 189.5,840.8 191.5,840.4 193.5,841.5 195.5,842.0 197.5,842.5 199.5,842.5 201.5,842.3 203.5,843.6 205.5,844.4 207.5,843.8 209.5,844.1 211.5,842.3 213.5,843.1 215.5,843.5 217.5,843.2 219.5,843.9 221.5,842.8 223.5,844.4 225.5,844.3 227.5,843.3 229.5,841.8 231.5,841.8 233.5,841.4 235.5,841.1 237.5,840.6 239.5,839.5 241.5,839.4 243.5,839.6 245.5,840.5 247.5,842.1 249.5,842.0 251.5,844.1 253.5,843.1 255.5,842.9 257.5,844.0 259.5,844.5 261.5,842.9 263.5,844.8 265.5,842.6 267.5,843.8 269.5,843.1 271.5,843.0 273.5,843.0 275.5,843.8 277.5,845.0 279.5,843.8 281.5,844.3 283.5,843.5 285.5,845.2 287.5,843.0 289.5,843.5 291.5,843.8 293.5,845.2 295.5,845.6 297.5,845.0 299.5,844.6 301.5,845.1 303.5,845.0 305.5,843.2 307.5,844.6 309.5,845.1 311.5,843.8 313.5,843.3 315.5,844.2 317.5,844.1 319.5,845.2 321.5,843.6 323.5,844.7 325.5,845.1 327.5,845.3 329.5,844.4 331.5,844.2 333.5,845.3 335.5,845.7 337.5,845.4 339.5,844.9 341.5,846.0 343.5,845.7 345.5,846.3 347.5,843.9 349.5,843.8 351.5,844.5 353.5,841.5 355.5,842.4 357.5,841.4 359.5,843.4 361.5,843.8 363.5,843.6 365.5,843.1 367.5,843.9 369.5,844.8 371.5,845.5 373.5,844.7 375.5,846.0 377.5,845.0 379.5,843.5 381.5,843.6 383.5,844.3 385.5,842.8 387.5,842.7 389.5,844.1 391.5,843.4 393.5,843.2 395.5,843.2 397.5,843.3 399.5,844.1 401.5,843.9 403.5,843.1 405.5,842.8 407.5,843.8 409.5,843.3 411.5,845.2 413.5,843.1 415.5,844.4 417.5,843.5 419.5,842.4 421.5,843.6 423.5,842.8 425.5,842.6 427.5,843.9 429.5,844.3 431.5,844.0 433.5,843.3 435.5,842.9 437.5,842.5 439.5,842.5 441.5,843.1 443.5,842.9 445.5,843.7 447.5,841.8 449.5,843.2 451.5,843.8 453.5,841.8 455.5,842.8 457.5,841.4 459.5,841.2 461.5,842.4 463.5,841.5 465.5,843.6 467.5,841.5 469.5,843.3 471.5,841.0 473.5,841.5 475.5,840.5 477.5,842.7 479.5,841.4 481.5,842.1 483.5,841.2 485.5,842.6 487.5,843.0 489.5,841.0 491.5,841.6 493.5,840.7 495.5,843.0 497.5,842.0 499.5,842.0 501.5,843.9 503.5,841.3 505.5,843.6 507.5,841.7 509.5,843.3 511.5,842.6 513.5,841.6 515.5,843.6 517.5,842.0 519.5,842.6 521.5,842.9 523.5,842.7 525.5,843.2 527.5,842.2 529.5,842.8 531.5,842.1 533.5,840.9 535.5,841.8 537.5,838.9 539.5,839.0 541.5,841.2 543.5,839.4 545.5,840.7 547.5,840.6 549.5,839.1 551.5,839.5 553.5,837.1 555.5,837.0 557.5,834.7 559.5,833.2 561.5,833.0 563.5,834.2 565.5,835.2 567.5,834.3 569.5,835.5 571.5,833.6 573.5,833.9 575.5,834.1 577.5,836.3 579.5,836.2 581.5,834.7 583.5,836.8 585.5,837.0 587.5,838.4 589.5,839.0 591.5,840.1 593.5,839.7 595.5,842.4 597.5,843.1 599.5,841.7 601.5,841.1 603.5,842.1 605.5,843.1 607.5,841.3 609.5,840.8 611.5,840.7 613.5,842.3 615.5,842.6 617.5,841.5 619.5,842.6 621.5,842.0 623.5,841.9 625.5,843.2 627.5,843.9 629.5,842.5 631.5,842.5 633.5,843.0 635.5,842.6 637.5,841.5 639.5,840.4 641.5,840.2 643.5,841.9 645.5,841.8 647.5,842.7 649.5,842.4 651.5,841.8 653.5,840.5 655.5,842.5 657.5,840.7 659.5,840.9 661.5,842.4 663.5,840.9 665.5,841.7 667.5,842.7 669.5,842.7 671.5,840.7 673.5,842.6 675.5,840.6 677.5,841.1 679.5,841.1 681.5,841.1 683.5,840.8 685.5,841.5 687.5,840.0 689.5,841.7 691.5,840.2 693.5,841.7 695.5,841.4 697.5,841.4 699.5,840.8 701.5,841.8 703.5,841.3 705.5,842.1 707.5,842.9 709.5,840.7 711.5,840.7 713.5,840.3 715.5,840.6 717.5,841.8 719.5,842.0 721.5,841.4 723.5,842.7 725.5,841.9 727.5,841.4 729.5,841.7 731.5,842.5 733.5,840.8 735.5,840.9 737.5,841.7 739.5,840.6 741.5,840.7 743.5,841.4 745.5,841.0 747.5,840.5 749.5,841.5 751.5,840.3 753.5,839.7 755.5,841.0 757.5,840.4 759.5,841.5 761.5,840.5 763.5,841.2 765.5,840.7 767.5,841.3 769.5,842.7 771.5,842.9 773.5,844.2 775.5,842.6 777.5,843.3 779.5,843.1 781.5,841.2 783.5,842.0 785.5,842.0 787.5,842.4 789.5,842.9 791.5,844.4 793.5,843.7 795.5,843.1 797.5,843.6 799.5,843.4 801.5,844.6 803.5,844.5 805.5,844.7 807.5,843.0 809.5,844.6 811.5,843.6 813.5,844.8 815.5,845.7 817.5,845.3 819.5,845.4 821.5,845.2 823.5,845.5 825.5,844.6 827.5,844.2 829.5,845.0 831.5,844.3 833.5,844.1 835.5,845.1 837.5,845.6 839.5,846.1 841.5,844.5 843.5,846.3 845.5,846.8 847.5,846.1 849.5,846.2 851.5,846.1 853.5,847.1 855.5,847.1 857.5,847.4 859.5,846.5 861.5,846.8 863.5,845.2 865.5,846.3 867.5,847.2 869.5,847.4 871.5,845.3 873.5,847.2 875.5,846.2 877.5,847.5 879.5,846.0 881.5,845.8 883.5,847.8 885.5,846.9 887.5,846.7 889.5,846.5 891.5,846.9 893.5,846.5 895.5,846.1 897.5,846.7 899.5,847.8 901.5,848.1 903.5,846.8 905.5,845.9 907.5,845.7 909.5,846.8 911.5,847.5 913.5,847.1 915.5,846.3 917.5,845.6 919.5,846.6 921.5,847.2 923.5,845.4 925.5,845.1 927.5,845.6 929.5,847.4 931.5,845.1 933.5,844.9 935.5,846.1 937.5,847.2 939.5,846.5 941.5,844.7 943.5,845.2 945.5,846.0 947.5,845.6 949.5,844.7 951.5,845.7 953.5,846.2 955.5,845.6 957.5,846.4 959.5,847.8 961.5,846.9 963.5,846.8 965.5,846.3 967.5,845.2 969.5,845.5 971.5,845.8 973.5,844.8 975.5,845.4 977.5,847.0 979.5,844.8 981.5,846.7 983.5,847.7 985.5,846.6 987.5,846.4 989.5,844.6 991.5,845.9 993.5,846.0 995.5,846.8 997.5,847.0 999.5,846.9 1001.5,845.8 1003.5,846.3 1005.5,846.1 1007.5,846.4 1009.5,846.6 1011.5,847.1 1013.5,847.3 1015.5,847.9 1017.5,848.3 1019.5,848.2 1021.5,847.3 1023.5,846.5 1025.5,846.9 1027.5,846.2 1029.5,846.6 1031.5,845.3 1033.5,847.0 1035.5,846.5 1037.5,848.3 1039.5,847.2 1041.5,847.1 1043.5,848.1 1045.5,848.6 1047.5,847.3 1049.5,848.7 1051.5,847.8 1053.5,847.7 1055.5,847.7 1057.5,848.5 1059.5,847.3 1061.5,849.6 1063.5,847.7 1065.5,848.3 1067.5,848.6 1069.5,848.1 1071.5,849.2 1073.5,849.9 1075.5,848.7 1077.5,848.2 1079.5,849.0 1081.5,848.2 1083.5,848.6 1085.5,846.9 1087.5,846.6 1089.5,846.3 1091.5,848.8 1093.5,848.6 1095.5,847.7 1097.5,848.3 1099.5,848.8 1101.5,848.3 1103.5,849.0 1105.5,847.9 1107.5,846.4 1109.5,848.2 1111.5,847.8 1113.5,846.6 1115.5,848.2 1117.5,847.5 1119.5,846.4 1121.5,846.8 1123.5,846.7 1125.5,845.9 1127.5,845.8 1129.5,847.8 1131.5,845.4 1133.5,847.0 1135.5,846.9 1137.5,846.7 1139.5,846.7 1141.5,847.7 1143.5,847.9 1145.5,845.3 1147.5,845.3 1149.5,845.3 1151.5,846.8 1153.5,845.9 1155.5,846.8 1157.5,846.8 1159.5,846.3 1161.5,846.1 1163.5,847.3 1165.5,848.0 1167.5,847.6 1169.5,848.4 1171.5,846.2 1173.5,846.7 1175.5,847.5 1177.5,846.9 1179.5,848.1 1181.5,847.9 1183.5,847.5 1185.5,847.9 1187.5,847.4 1189.5,846.5 1191.5,847.1 1193.5,848.4 1195.5,846.0 1197.5,846.5 1199.5,847.0 1201.5,846.3 1203.5,848.8 1205.5,847.8 1207.5,849.2 1209.5,848.7 1211.5,847.2 1213.5,848.5 1215.5,848.9 1217.5,848.2 1219.5,848.2 1221.5,848.5 1223.5,849.3 1225.5,847.6 1227.5,849.1 1229.5,847.0 1231.5,847.3 1233.5,847.9 1235.5,848.4 1237.5,847.5 1239.5,847.7 1241.5,846.2 1243.5,847.9 1245.5,847.2 1247.5,847.5 1249.5,847.8 1251.5,845.7 1253.5,846.1 1255.5,847.6 1257.5,848.0 1259.5,847.7 1261.5,848.2 1263.5,847.2 1265.5,847.7 1267.5,849.5 1269.5,847.9 1271.5,847.6 1273.5,846.1 1275.5,846.3 1277.5,847.6 1279.5,848.3 1281.5,847.5 1283.5,846.6 1285.5,846.1 1287.5,847.7 1289.5,847.1 1291.5,847.1 1293.5,847.7 1295.5,846.9 1297.5,846.4 1299.5,846.5 1301.5,847.7 1303.5,848.3 1305.5,847.1 1307.5,848.5 1309.5,847.2 1311.5,849.2 1313.5,849.1 1315.5,850.8 1317.5,850.9 1319.5,850.2 1321.5,850.2 1323.5,850.1 1325.5,848.3 1327.5,849.6 1329.5,849.9 1331.5,848.6 1333.5,848.4 1335.5,849.1 1337.5,848.6 1339.5,850.1 1341.5,849.3 1343.5,849.8 1345.5,851.0 1347.5,849.6 1349.5,850.0 1351.5,849.5 1353.5,850.2 1355.5,849.7 1357.5,850.2 1359.5,850.1 1361.5,850.7 1363.5,850.2 1365.5,849.6 1367.5,849.1 1369.5,851.0 1371.5,849.9 1373.5,849.0 1375.5,850.6 1377.5,848.8 1379.5,849.8 1381.5,848.4 1383.5,850.0 1385.5,849.4 1387.5,849.5 1389.5,849.8 1391.5,849.8 1393.5,850.3 1395.5,851.3 1397.5,849.8 1399.5,850.3 1401.5,850.4 1403.5,850.2 1405.5,851.0 1407.5,849.9 1409.5,848.4 1411.5,849.3 1413.5,848.6 1415.5,849.4 1417.5,849.2 1419.5,848.7 1421.5,850.0 1423.5,849.2 1425.5,849.6 1427.5,847.7 1429.5,848.6 1431.5,849.8 1433.5,847.9 1435.5,847.2 1437.5,849.1 1439.5,848.5 1441.5,850.9 1443.5,848.8 1445.5,848.7 1447.5,848.2 1449.5,849.9 1451.5,850.5 1453.5,848.0 1455.5,849.0 1457.5,848.7 1459.5,848.8 1461.5,849.9 1463.5,850.1 1465.5,849.7 1467.5,850.5 1469.5,850.5 1471.5,850.7 1473.5,849.5 1475.5,851.6 1477.5,850.8 1479.5,849.0 1481.5,850.5 1483.5,849.4 1485.5,849.8 1487.5,851.5 1489.5,850.7 1491.5,851.0 1493.5,851.6 1495.5,849.8 1497.5,849.8 1499.5,851.1 1501.5,851.5 1503.5,849.3 1505.5,851.2 1507.5,848.7 1509.5,850.4 1511.5,849.0 1513.5,851.2 1515.5,850.1 1517.5,850.1 1519.5,848.3 1521.5,850.6 1523.5,850.0 1525.5,849.8 1527.5,850.4 1529.5,849.9 1531.5,849.8 1533.5,850.4 1535.5,849.3 1537.5,850.1 1539.5,849.6 1541.5,850.7 1543.5,850.0 1545.5,850.6 1547.5,849.7 1549.5,850.3 1551.5,850.4 1553.5,849.7 1555.5,849.6 1557.5,850.1 1559.5,849.3 1561.5,849.2 1563.5,850.5 1565.5,850.0 1567.5,850.6 1569.5,850.7 1571.5,850.8 1573.5,852.8 1575.5,852.1 1577.5,852.0 1579.5,852.7 1581.5,851.6 1583.5,851.9 1585.5,851.4 1587.5,851.0 1589.5,850.6 1591.5,851.0 1593.5,852.1 1595.5,851.4 1597.5,851.2 1599.5,852.2 1601.5,852.4 1603.5,850.8 1605.5,850.4 1607.5,852.1 1609.5,851.1 1611.5,851.9 1613.5,851.8 1615.5,852.6 1617.5,850.9 1619.5,851.4 1621.5,851.5 1623.5,851.3 1625.5,851.6 1627.5,849.8 1629.5,851.4 1631.5,851.9 1633.5,852.3 1635.5,851.5 1637.5,850.6 1639.5,849.2 1641.5,851.4 1643.5,851.4 1645.5,850.5 1647.5,852.1 1649.5,851.5 1651.5,852.1 1653.5,852.0 1655.5,852.3 1657.5,853.1 1659.5,851.1 1661.5,851.0 1663.5,851.5 1665.5,851.6 1667.5,852.2 1669.5,851.3 1671.5,851.7 1673.5,852.5 1675.5,852.7 1677.5,853.4 1679.5,850.7 1681.5,852.7 1683.5,852.7 1685.5,852.6 1687.5,852.2 1689.5,852.8 1691.5,851.7 1693.5,851.6 1695.5,850.9 1697.5,852.0 1699.5,852.6 1701.5,852.6 1703.5,852.5 1705.5,853.3 1707.5,852.7 1709.5,853.1 1711.5,852.0 1713.5,853.1 1715.5,852.0 1717.5,851.5 1719.5,852.5 1721.5,851.9 1723.5,853.8 1725.5,851.9 1727.5,851.7 1729.5,852.7 1731.5,852.9 1733.5,852.2 1735.5,850.8 1737.5,851.9 1739.5,852.8 1741.5,852.2 1743.5,852.1 1745.5,851.9 1747.5,851.5 1749.5,852.4 1751.5,853.9 1753.5,853.7 1755.5,852.6 1757.5,853.8 1759.5,853.1 1761.5,852.3 1763.5,850.8 1765.5,851.5 1767.5,851.9 1769.5,852.7 1771.5,851.6 1773.5,852.1 1775.5,853.1 1777.5,851.4 1779.5,852.1 1781.5,853.7 1783.5,853.0 1785.5,852.0 1787.5,854.4 1789.5,852.3 1791.5,852.8 1793.5,853.2 1795.5,852.8 1797.5,851.3 1799.5,852.0 1801.5,852.1 1803.5,851.7 1805.5,853.7 1807.5,853.1 1809.5,852.6 1811.5,853.1 1813.5,853.7 1815.5,851.9 1817.5,852.9 1819.5,853.1 1821.5,852.0 1823.5,853.0 1825.5,854.0 1827.5,852.4 1829.5,853.1 1831.5,853.6 1833.5,851.4 1835.5,852.8 1837.5,852.2 1839.5,853.4 1841.5,852.1 1843.5,853.3 1845.5,853.8 1847.5,853.5 1849.5,853.2 1851.5,853.8 1853.5,854.4 1855.5,854.8 1857.5,853.7 1859.5,853.2 1861.5,852.7 1863.5,854.2 1865.5,853.9 1867.5,853.7 1869.5,853.8 1871.5,853.8 1873.5,852.5 1875.5,854.4 1877.5,853.6 1879.5,853.2 1881.5,852.3 1883.5,853.7 1885.5,853.8 1887.5,853.2 1889.5,854.7 1891.5,853.0 1893.5,853.8 1895.5,854.0 1897.5,853.3 1899.5,853.7 1901.5,854.0 1903.5,854.6 1905.5,853.6 1907.5,854.4 1909.5,854.2 1911.5,852.8 1913.5,851.6 1915.5,853.3 1917.5,853.2 1919.5,854.2 1921.5,852.7 1923.5,855.2 1925.5,854.1 1927.5,854.5 1929.5,852.5 1931.5,853.8 1933.5,853.8 1935.5,853.8 1937.5,853.2 1939.5,854.0 1941.5,853.9 1943.5,855.2 1945.5,854.8 1947.5,853.5 1949.5,854.6 1951.5,853.6 1953.5,854.8 1955.5,855.9 1957.5,855.6 1959.5,855.8 1961.5,854.6 1963.5,855.4 1965.5,854.7 1967.5,855.7 1969.5,856.0 1971.5,855.3 1973.5,854.8 1975.5,855.3 1977.5,855.7 1979.5,853.2 1981.5,854.5 1983.5,855.2 1987.0,855.2"/>
<polyline class="tr" stroke="#00b06e" stroke-width="6" stroke-linecap="round" points="993.3,846.5 995.8,837.9 996.8,831.7 998.0,838.7 1001.8,846.0"/>
<polyline class="tr" stroke="#00b06e" stroke-width="6" stroke-linecap="round" points="1103.5,847.4 1106.0,844.1 1107.0,841.4 1108.2,844.4 1112.0,846.9"/>
<polyline class="tr" stroke="#0068e0" stroke-width="10.5" points="139.0,1002.5 141.5,1002.5 143.5,1001.7 145.5,1000.1 147.5,1001.4 149.5,1000.8 151.5,999.7 153.5,1000.4 155.5,1001.7 157.5,1000.8 159.5,1002.4 161.5,1003.3 163.5,1001.8 165.5,1004.0 167.5,1001.8 169.5,1003.6 171.5,1004.3 173.5,1004.1 175.5,1003.2 177.5,1003.5 179.5,1003.7 181.5,1003.1 183.5,1004.0 185.5,1004.2 187.5,1002.8 189.5,1002.1 191.5,1001.4 193.5,1003.1 195.5,1004.2 197.5,1002.0 199.5,1001.7 201.5,1002.9 203.5,1003.4 205.5,1004.4 207.5,1002.6 209.5,1003.3 211.5,1003.5 213.5,1004.6 215.5,1002.4 217.5,1004.7 219.5,1002.7 221.5,1003.5 223.5,1002.3 225.5,1003.2 227.5,1002.9 229.5,1004.4 231.5,1002.7 233.5,1002.2 235.5,1000.7 237.5,999.8 239.5,998.3 241.5,1000.2 243.5,1001.5 245.5,1002.4 247.5,1003.9 249.5,1004.0 251.5,1003.1 253.5,1003.5 255.5,1003.8 257.5,1002.3 259.5,1002.0 261.5,1003.9 263.5,1002.6 265.5,1004.0 267.5,1004.7 269.5,1003.4 271.5,1004.1 273.5,1004.0 275.5,1002.8 277.5,1003.8 279.5,1003.3 281.5,1003.0 283.5,1002.7 285.5,1004.4 287.5,1003.2 289.5,1004.5 291.5,1004.1 293.5,1003.3 295.5,1005.1 297.5,1003.8 299.5,1004.4 301.5,1004.9 303.5,1003.0 305.5,1004.7 307.5,1003.7 309.5,1004.6 311.5,1004.2 313.5,1005.2 315.5,1003.6 317.5,1003.2 319.5,1004.0 321.5,1003.6 323.5,1003.3 325.5,1004.5 327.5,1003.0 329.5,1003.5 331.5,1003.4 333.5,1002.8 335.5,1002.5 337.5,1003.7 339.5,1003.1 341.5,1003.1 343.5,1002.6 345.5,1002.8 347.5,1002.7 349.5,1003.1 351.5,1001.5 353.5,1000.7 355.5,1002.3 357.5,1001.6 359.5,1001.8 361.5,1003.6 363.5,1002.6 365.5,1002.8 367.5,1000.6 369.5,1002.3 371.5,999.8 373.5,1000.0 375.5,1002.0 377.5,1001.3 379.5,1001.2 381.5,1000.6 383.5,1001.2 385.5,1001.4 387.5,1002.1 389.5,1000.8 391.5,1001.9 393.5,1001.8 395.5,1001.2 397.5,1000.7 399.5,1001.4 401.5,1000.4 403.5,1001.1 405.5,1000.2 407.5,1002.3 409.5,1000.6 411.5,999.8 413.5,1001.2 415.5,1001.7 417.5,1001.6 419.5,1000.7 421.5,999.6 423.5,1000.5 425.5,999.1 427.5,1001.6 429.5,1001.9 431.5,999.9 433.5,1000.4 435.5,1001.9 437.5,1002.0 439.5,1002.1 441.5,1001.5 443.5,1001.9 445.5,1000.9 447.5,1000.6 449.5,999.9 451.5,1002.5 453.5,1002.3 455.5,1002.3 457.5,1001.5 459.5,999.9 461.5,1001.5 463.5,1002.2 465.5,1000.9 467.5,1001.1 469.5,1002.5 471.5,1001.3 473.5,1002.9 475.5,1002.4 477.5,1002.8 479.5,1002.8 481.5,1000.9 483.5,1002.3 485.5,1001.2 487.5,1002.2 489.5,1002.7 491.5,1001.9 493.5,1003.2 495.5,1002.3 497.5,1002.7 499.5,1001.3 501.5,1000.4 503.5,1001.2 505.5,1002.0 507.5,1001.2 509.5,1000.5 511.5,1002.2 513.5,1002.6 515.5,1001.6 517.5,1002.6 519.5,1003.0 521.5,1002.0 523.5,1003.7 525.5,1002.6 527.5,1002.8 529.5,1002.8 531.5,1002.8 533.5,1002.0 535.5,1000.9 537.5,1002.4 539.5,999.9 541.5,1000.7 543.5,1000.7 545.5,999.7 547.5,999.5 549.5,999.0 551.5,998.4 553.5,996.9 555.5,994.8 557.5,992.8 559.5,992.8 561.5,992.4 563.5,992.3 565.5,993.9 567.5,992.8 569.5,993.8 571.5,994.4 573.5,994.8 575.5,993.3 577.5,994.9 579.5,992.5 581.5,994.8 583.5,995.1 585.5,996.3 587.5,996.5 589.5,998.4 591.5,1001.5 593.5,1001.4 595.5,1001.6 597.5,1001.7 599.5,1001.6 601.5,1000.2 603.5,998.8 605.5,997.6 607.5,998.2 609.5,999.0 611.5,1000.6 613.5,1001.9 615.5,1001.2 617.5,1003.0 619.5,1002.5 621.5,1002.2 623.5,1001.1 625.5,1001.5 627.5,1002.6 629.5,1001.9 631.5,1002.2 633.5,1001.9 635.5,1002.1 637.5,1002.0 639.5,1001.0 641.5,1003.2 643.5,1002.0 645.5,1002.5 647.5,1002.2 649.5,1002.1 651.5,1001.8 653.5,1001.0 655.5,1002.7 657.5,1002.3 659.5,1001.5 661.5,1001.7 663.5,1001.5 665.5,1000.8 667.5,1002.6 669.5,1002.5 671.5,1001.7 673.5,1001.6 675.5,1001.5 677.5,1003.5 679.5,1002.8 681.5,1002.5 683.5,1002.2 685.5,1001.2 687.5,1001.3 689.5,1001.6 691.5,1002.4 693.5,1001.7 695.5,1002.3 697.5,1001.0 699.5,1001.8 701.5,1001.5 703.5,1001.6 705.5,1000.6 707.5,1000.5 709.5,1001.9 711.5,1000.9 713.5,1000.7 715.5,1000.0 717.5,1001.0 719.5,1001.7 721.5,1000.0 723.5,1001.2 725.5,1000.8 727.5,1001.7 729.5,1001.4 731.5,1001.7 733.5,1001.6 735.5,1001.6 737.5,999.7 739.5,1000.0 741.5,999.5 743.5,999.7 745.5,1000.0 747.5,1000.8 749.5,999.4 751.5,999.8 753.5,1000.2 755.5,998.5 757.5,997.4 759.5,997.7 761.5,997.9 763.5,998.0 765.5,1000.6 767.5,1000.7 769.5,1001.1 771.5,1001.9 773.5,1001.1 775.5,1001.5 777.5,1003.6 779.5,1002.5 781.5,1001.5 783.5,1003.4 785.5,1001.7 787.5,1003.6 789.5,1003.4 791.5,1003.0 793.5,1002.1 795.5,1002.5 797.5,1002.9 799.5,1001.5 801.5,1002.4 803.5,1002.2 805.5,1003.8 807.5,1002.0 809.5,1004.3 811.5,1004.6 813.5,1004.7 815.5,1002.6 817.5,1004.2 819.5,1002.5 821.5,1003.3 823.5,1003.3 825.5,1003.7 827.5,1003.2 829.5,1005.0 831.5,1004.5 833.5,1004.4 835.5,1004.7 837.5,1005.1 839.5,1003.4 841.5,1004.9 843.5,1003.9 845.5,1006.0 847.5,1005.8 849.5,1006.2 851.5,1004.7 853.5,1004.9 855.5,1005.1 857.5,1006.8 859.5,1006.0 861.5,1006.8 863.5,1005.9 865.5,1007.3 867.5,1005.8 869.5,1007.3 871.5,1006.3 873.5,1006.5 875.5,1005.9 877.5,1005.8 879.5,1005.3 881.5,1006.4 883.5,1006.5 885.5,1006.0 887.5,1005.7 889.5,1007.5 891.5,1006.3 893.5,1007.7 895.5,1006.6 897.5,1006.9 899.5,1008.6 901.5,1006.5 903.5,1007.5 905.5,1008.0 907.5,1005.5 909.5,1006.1 911.5,1006.2 913.5,1006.7 915.5,1005.7 917.5,1005.4 919.5,1004.9 921.5,1004.7 923.5,1006.4 925.5,1004.7 927.5,1006.6 929.5,1006.1 931.5,1005.0 933.5,1005.0 935.5,1003.7 937.5,1003.9 939.5,1005.4 941.5,1004.2 943.5,1005.9 945.5,1005.6 947.5,1004.9 949.5,1004.4 951.5,1004.2 953.5,1005.2 955.5,1006.3 957.5,1006.3 959.5,1005.6 961.5,1005.2 963.5,1005.9 965.5,1006.1 967.5,1005.2 969.5,1005.6 971.5,1005.0 973.5,1004.9 975.5,1003.2 977.5,1004.2 979.5,1004.7 981.5,1005.4 983.5,1003.5 985.5,1005.8 987.5,1004.9 989.5,1004.2 991.5,1003.1 993.5,1000.8 995.5,1001.2 997.5,1000.6 999.5,1001.3 1001.5,1001.2 1003.5,1002.1 1005.5,1004.1 1007.5,1005.6 1009.5,1005.3 1011.5,1005.7 1013.5,1006.4 1015.5,1008.4 1017.5,1006.0 1019.5,1005.1 1021.5,1006.0 1023.5,1006.1 1025.5,1006.1 1027.5,1006.4 1029.5,1005.6 1031.5,1006.7 1033.5,1007.3 1035.5,1007.4 1037.5,1007.7 1039.5,1006.7 1041.5,1006.9 1043.5,1008.4 1045.5,1008.2 1047.5,1006.1 1049.5,1006.7 1051.5,1006.6 1053.5,1006.8 1055.5,1007.3 1057.5,1007.4 1059.5,1005.2 1061.5,1005.7 1063.5,1004.2 1065.5,1005.3 1067.5,1005.2 1069.5,1004.7 1071.5,1004.6 1073.5,1003.3 1075.5,1003.7 1077.5,1004.7 1079.5,1004.5 1081.5,1005.3 1083.5,1005.4 1085.5,1007.1 1087.5,1006.7 1089.5,1004.3 1091.5,1004.7 1093.5,1004.1 1095.5,1005.3 1097.5,1006.0 1099.5,1007.1 1101.5,1006.7 1103.5,1007.4 1105.5,1008.0 1107.5,1007.1 1109.5,1005.1 1111.5,1005.2 1113.5,1006.2 1115.5,1007.3 1117.5,1006.0 1119.5,1006.2 1121.5,1005.3 1123.5,1006.2 1125.5,1007.1 1127.5,1006.0 1129.5,1005.2 1131.5,1006.5 1133.5,1005.4 1135.5,1005.2 1137.5,1006.4 1139.5,1006.8 1141.5,1006.7 1143.5,1005.0 1145.5,1005.3 1147.5,1006.3 1149.5,1005.9 1151.5,1004.9 1153.5,1005.8 1155.5,1006.4 1157.5,1005.7 1159.5,1004.4 1161.5,1005.8 1163.5,1004.7 1165.5,1006.0 1167.5,1004.7 1169.5,1006.0 1171.5,1007.3 1173.5,1005.9 1175.5,1005.4 1177.5,1006.6 1179.5,1006.5 1181.5,1005.6 1183.5,1006.3 1185.5,1005.5 1187.5,1006.4 1189.5,1006.7 1191.5,1005.7 1193.5,1005.6 1195.5,1006.2 1197.5,1006.9 1199.5,1005.3 1201.5,1007.0 1203.5,1007.2 1205.5,1006.7 1207.5,1006.8 1209.5,1007.0 1211.5,1005.4 1213.5,1006.2 1215.5,1007.1 1217.5,1007.6 1219.5,1006.2 1221.5,1007.8 1223.5,1007.2 1225.5,1007.0 1227.5,1004.8 1229.5,1007.1 1231.5,1006.3 1233.5,1005.5 1235.5,1004.8 1237.5,1005.8 1239.5,1005.8 1241.5,1006.2 1243.5,1006.0 1245.5,1006.5 1247.5,1005.9 1249.5,1006.9 1251.5,1006.2 1253.5,1005.5 1255.5,1005.4 1257.5,1006.0 1259.5,1004.8 1261.5,1005.3 1263.5,1006.2 1265.5,1006.4 1267.5,1005.2 1269.5,1006.4 1271.5,1006.5 1273.5,1006.4 1275.5,1005.4 1277.5,1004.1 1279.5,1005.2 1281.5,1004.5 1283.5,1004.0 1285.5,1003.2 1287.5,1003.9 1289.5,1004.1 1291.5,1002.5 1293.5,1004.7 1295.5,1004.4 1297.5,1003.9 1299.5,1005.0 1301.5,1006.2 1303.5,1006.8 1305.5,1006.6 1307.5,1005.0 1309.5,1006.1 1311.5,1004.9 1313.5,1005.3 1315.5,1007.1 1317.5,1006.9 1319.5,1007.2 1321.5,1006.3 1323.5,1008.1 1325.5,1007.0 1327.5,1006.6 1329.5,1006.9 1331.5,1006.6 1333.5,1006.8 1335.5,1008.0 1337.5,1008.2 1339.5,1006.7 1341.5,1008.2 1343.5,1007.9 1345.5,1006.4 1347.5,1007.0 1349.5,1006.8 1351.5,1005.9 1353.5,1008.2 1355.5,1008.1 1357.5,1007.9 1359.5,1006.7 1361.5,1007.4 1363.5,1007.5 1365.5,1006.0 1367.5,1006.0 1369.5,1005.8 1371.5,1008.0 1373.5,1006.2 1375.5,1005.9 1377.5,1007.1 1379.5,1005.9 1381.5,1007.5 1383.5,1006.9 1385.5,1006.4 1387.5,1006.7 1389.5,1006.4 1391.5,1006.3 1393.5,1007.7 1395.5,1005.5 1397.5,1005.7 1399.5,1005.7 1401.5,1005.6 1403.5,1006.6 1405.5,1005.5 1407.5,1005.7 1409.5,1006.3 1411.5,1007.7 1413.5,1008.3 1415.5,1006.5 1417.5,1005.7 1419.5,1006.4 1421.5,1006.2 1423.5,1005.8 1425.5,1005.4 1427.5,1006.6 1429.5,1005.5 1431.5,1006.2 1433.5,1005.2 1435.5,1007.0 1437.5,1006.0 1439.5,1006.0 1441.5,1005.6 1443.5,1006.4 1445.5,1005.5 1447.5,1007.3 1449.5,1007.3 1451.5,1007.1 1453.5,1005.6 1455.5,1006.2 1457.5,1006.2 1459.5,1006.5 1461.5,1007.0 1463.5,1007.2 1465.5,1006.7 1467.5,1008.4 1469.5,1006.4 1471.5,1006.9 1473.5,1008.4 1475.5,1006.3 1477.5,1007.3 1479.5,1006.8 1481.5,1008.5 1483.5,1008.1 1485.5,1007.5 1487.5,1007.0 1489.5,1007.9 1491.5,1006.0 1493.5,1007.2 1495.5,1006.8 1497.5,1008.0 1499.5,1006.4 1501.5,1006.4 1503.5,1007.0 1505.5,1007.8 1507.5,1007.4 1509.5,1006.1 1511.5,1007.6 1513.5,1008.0 1515.5,1008.2 1517.5,1007.0 1519.5,1006.8 1521.5,1007.0 1523.5,1005.9 1525.5,1007.3 1527.5,1006.9 1529.5,1006.2 1531.5,1008.2 1533.5,1007.4 1535.5,1006.1 1537.5,1005.9 1539.5,1006.7 1541.5,1006.7 1543.5,1007.2 1545.5,1006.5 1547.5,1005.6 1549.5,1006.2 1551.5,1006.3 1553.5,1005.6 1555.5,1006.4 1557.5,1006.6 1559.5,1007.1 1561.5,1007.5 1563.5,1006.0 1565.5,1007.0 1567.5,1005.8 1569.5,1007.0 1571.5,1004.8 1573.5,1007.1 1575.5,1006.8 1577.5,1005.6 1579.5,1006.9 1581.5,1007.4 1583.5,1005.3 1585.5,1007.0 1587.5,1006.8 1589.5,1007.6 1591.5,1006.4 1593.5,1008.5 1595.5,1008.1 1597.5,1006.9 1599.5,1008.0 1601.5,1006.3 1603.5,1007.2 1605.5,1007.9 1607.5,1007.9 1609.5,1008.0 1611.5,1009.7 1613.5,1008.1 1615.5,1009.1 1617.5,1008.0 1619.5,1008.5 1621.5,1007.6 1623.5,1009.3 1625.5,1009.0 1627.5,1009.4 1629.5,1006.9 1631.5,1007.4 1633.5,1009.0 1635.5,1009.0 1637.5,1008.1 1639.5,1008.7 1641.5,1008.3 1643.5,1009.0 1645.5,1008.0 1647.5,1009.0 1649.5,1010.1 1651.5,1008.9 1653.5,1008.2 1655.5,1008.8 1657.5,1009.1 1659.5,1010.7 1661.5,1010.2 1663.5,1009.9 1665.5,1010.9 1667.5,1009.4 1669.5,1010.3 1671.5,1009.1 1673.5,1010.1 1675.5,1009.0 1677.5,1009.7 1679.5,1008.5 1681.5,1010.6 1683.5,1009.4 1685.5,1010.6 1687.5,1009.3 1689.5,1008.7 1691.5,1010.3 1693.5,1010.0 1695.5,1009.8 1697.5,1009.9 1699.5,1009.6 1701.5,1009.2 1703.5,1009.1 1705.5,1010.9 1707.5,1009.0 1709.5,1009.7 1711.5,1009.6 1713.5,1010.2 1715.5,1009.5 1717.5,1011.3 1719.5,1011.5 1721.5,1011.4 1723.5,1011.5 1725.5,1009.6 1727.5,1009.5 1729.5,1010.4 1731.5,1010.1 1733.5,1008.7 1735.5,1010.4 1737.5,1010.4 1739.5,1009.6 1741.5,1010.4 1743.5,1009.4 1745.5,1007.8 1747.5,1010.2 1749.5,1011.0 1751.5,1010.6 1753.5,1011.1 1755.5,1009.8 1757.5,1009.9 1759.5,1010.3 1761.5,1010.6 1763.5,1009.5 1765.5,1010.8 1767.5,1009.5 1769.5,1009.2 1771.5,1009.1 1773.5,1009.1 1775.5,1008.4 1777.5,1010.1 1779.5,1009.5 1781.5,1010.0 1783.5,1010.9 1785.5,1010.0 1787.5,1010.5 1789.5,1009.6 1791.5,1010.0 1793.5,1010.3 1795.5,1010.0 1797.5,1011.0 1799.5,1011.4 1801.5,1010.6 1803.5,1011.3 1805.5,1010.8 1807.5,1009.7 1809.5,1009.9 1811.5,1011.7 1813.5,1011.8 1815.5,1009.9 1817.5,1010.6 1819.5,1011.5 1821.5,1011.0 1823.5,1011.6 1825.5,1009.8 1827.5,1011.2 1829.5,1009.7 1831.5,1010.5 1833.5,1011.4 1835.5,1010.7 1837.5,1010.5 1839.5,1011.2 1841.5,1009.9 1843.5,1009.0 1845.5,1011.3 1847.5,1009.8 1849.5,1009.5 1851.5,1010.4 1853.5,1010.1 1855.5,1011.6 1857.5,1010.7 1859.5,1011.9 1861.5,1012.0 1863.5,1009.8 1865.5,1011.5 1867.5,1012.0 1869.5,1011.6 1871.5,1010.7 1873.5,1010.7 1875.5,1013.1 1877.5,1010.9 1879.5,1012.0 1881.5,1010.5 1883.5,1012.0 1885.5,1011.0 1887.5,1012.3 1889.5,1011.7 1891.5,1011.7 1893.5,1011.5 1895.5,1009.8 1897.5,1011.4 1899.5,1009.7 1901.5,1010.2 1903.5,1010.7 1905.5,1012.1 1907.5,1010.3 1909.5,1010.5 1911.5,1011.3 1913.5,1010.5 1915.5,1010.1 1917.5,1011.8 1919.5,1011.4 1921.5,1011.6 1923.5,1010.5 1925.5,1012.1 1927.5,1011.9 1929.5,1011.9 1931.5,1010.3 1933.5,1012.0 1935.5,1011.1 1937.5,1012.9 1939.5,1011.8 1941.5,1010.8 1943.5,1012.3 1945.5,1010.0 1947.5,1010.5 1949.5,1012.3 1951.5,1011.4 1953.5,1011.5 1955.5,1012.1 1957.5,1012.3 1959.5,1012.0 1961.5,1011.8 1963.5,1011.9 1965.5,1012.0 1967.5,1012.6 1969.5,1011.3 1971.5,1011.7 1973.5,1011.1 1975.5,1011.8 1977.5,1013.1 1979.5,1011.4 1981.5,1011.9 1983.5,1011.1 1987.0,1011.1"/>
<polyline class="tr" stroke="#0068e0" stroke-width="6" stroke-linecap="round" points="388.5,1001.4 391.0,997.4 392.0,994.3 393.2,997.8 397.0,1000.9"/>
<polyline class="tr" stroke="#0068e0" stroke-width="6" stroke-linecap="round" points="1074.8,1004.8 1077.3,993.5 1078.3,985.5 1079.5,994.5 1083.3,1004.2"/>
<polyline class="tr" stroke="#ff4040" stroke-width="10.5" points="139.0,1154.6 141.5,1154.6 143.5,1153.1 145.5,1155.5 147.5,1155.6 149.5,1154.3 151.5,1155.3 153.5,1154.8 155.5,1154.6 157.5,1155.3 159.5,1154.6 161.5,1154.9 163.5,1154.7 165.5,1155.4 167.5,1156.7 169.5,1156.4 171.5,1156.6 173.5,1155.9 175.5,1155.8 177.5,1156.1 179.5,1156.7 181.5,1156.6 183.5,1157.8 185.5,1158.5 187.5,1158.8 189.5,1158.4 191.5,1158.3 193.5,1158.8 195.5,1160.2 197.5,1158.7 199.5,1160.3 201.5,1158.7 203.5,1159.3 205.5,1159.6 207.5,1160.0 209.5,1159.5 211.5,1161.1 213.5,1159.2 215.5,1160.3 217.5,1158.8 219.5,1159.7 221.5,1160.0 223.5,1159.5 225.5,1159.8 227.5,1159.1 229.5,1158.7 231.5,1160.5 233.5,1159.4 235.5,1159.2 237.5,1160.4 239.5,1160.6 241.5,1160.2 243.5,1161.7 245.5,1161.3 247.5,1160.3 249.5,1161.0 251.5,1161.2 253.5,1159.7 255.5,1159.9 257.5,1160.2 259.5,1161.3 261.5,1161.3 263.5,1161.1 265.5,1161.7 267.5,1161.6 269.5,1160.6 271.5,1160.4 273.5,1161.2 275.5,1163.1 277.5,1161.9 279.5,1162.7 281.5,1161.8 283.5,1161.8 285.5,1161.6 287.5,1161.8 289.5,1161.6 291.5,1161.2 293.5,1161.1 295.5,1160.6 297.5,1160.8 299.5,1160.3 301.5,1161.9 303.5,1162.2 305.5,1161.1 307.5,1162.6 309.5,1161.5 311.5,1164.2 313.5,1162.1 315.5,1162.5 317.5,1162.5 319.5,1163.2 321.5,1162.2 323.5,1162.9 325.5,1163.6 327.5,1161.3 329.5,1162.5 331.5,1163.3 333.5,1161.3 335.5,1162.0 337.5,1162.7 339.5,1160.9 341.5,1160.8 343.5,1161.6 345.5,1160.5 347.5,1162.5 349.5,1162.0 351.5,1162.6 353.5,1162.3 355.5,1162.4 357.5,1162.1 359.5,1162.1 361.5,1162.9 363.5,1163.9 365.5,1162.5 367.5,1162.2 369.5,1162.8 371.5,1163.1 373.5,1162.6 375.5,1162.3 377.5,1161.6 379.5,1161.6 381.5,1162.6 383.5,1161.7 385.5,1162.5 387.5,1162.9 389.5,1163.6 391.5,1161.1 393.5,1162.5 395.5,1162.3 397.5,1162.9 399.5,1161.0 401.5,1161.1 403.5,1162.1 405.5,1162.8 407.5,1162.3 409.5,1162.4 411.5,1161.4 413.5,1161.8 415.5,1162.2 417.5,1160.9 419.5,1162.5 421.5,1161.1 423.5,1161.5 425.5,1162.5 427.5,1161.5 429.5,1161.9 431.5,1163.2 433.5,1162.2 435.5,1162.4 437.5,1163.3 439.5,1164.2 441.5,1163.7 443.5,1163.6 445.5,1163.9 447.5,1163.2 449.5,1162.0 451.5,1163.1 453.5,1162.2 455.5,1161.9 457.5,1162.9 459.5,1162.8 461.5,1160.8 463.5,1161.8 465.5,1163.3 467.5,1163.1 469.5,1161.1 471.5,1161.9 473.5,1163.6 475.5,1162.8 477.5,1162.1 479.5,1162.7 481.5,1163.3 483.5,1163.3 485.5,1162.9 487.5,1162.9 489.5,1161.1 491.5,1161.8 493.5,1162.1 495.5,1161.5 497.5,1163.1 499.5,1162.2 501.5,1160.6 503.5,1160.9 505.5,1161.4 507.5,1162.6 509.5,1162.3 511.5,1161.2 513.5,1160.9 515.5,1162.3 517.5,1160.7 519.5,1161.3 521.5,1161.7 523.5,1161.3 525.5,1162.2 527.5,1161.8 529.5,1161.3 531.5,1161.9 533.5,1161.7 535.5,1160.4 537.5,1161.4 539.5,1160.4 541.5,1161.8 543.5,1160.6 545.5,1159.8 547.5,1158.8 549.5,1160.6 551.5,1159.8 553.5,1158.6 555.5,1156.7 557.5,1154.6 559.5,1154.9 561.5,1155.8 563.5,1156.0 565.5,1155.6 567.5,1153.9 569.5,1154.8 571.5,1155.6 573.5,1155.8 575.5,1155.6 577.5,1154.7 579.5,1156.7 581.5,1155.8 583.5,1158.1 585.5,1158.0 587.5,1160.0 589.5,1160.0 591.5,1160.1 593.5,1162.7 595.5,1161.3 597.5,1161.5 599.5,1162.6 601.5,1162.2 603.5,1163.1 605.5,1161.1 607.5,1162.6 609.5,1159.5 611.5,1160.0 613.5,1161.1 615.5,1160.0 617.5,1161.6 619.5,1161.7 621.5,1162.2 623.5,1160.9 625.5,1161.4 627.5,1161.5 629.5,1161.4 631.5,1159.9 633.5,1161.8 635.5,1162.5 637.5,1161.9 639.5,1162.1 641.5,1160.3 643.5,1162.0 645.5,1162.5 647.5,1162.4 649.5,1161.3 651.5,1161.3 653.5,1161.4 655.5,1160.4 657.5,1160.0 659.5,1161.1 661.5,1160.8 663.5,1160.2 665.5,1161.2 667.5,1161.5 669.5,1160.4 671.5,1161.8 673.5,1161.3 675.5,1161.5 677.5,1161.8 679.5,1161.6 681.5,1161.1 683.5,1161.0 685.5,1161.1 687.5,1160.1 689.5,1161.0 691.5,1161.5 693.5,1160.7 695.5,1160.1 697.5,1159.1 699.5,1158.5 701.5,1160.9 703.5,1160.1 705.5,1159.6 707.5,1160.4 709.5,1160.0 711.5,1159.4 713.5,1159.3 715.5,1159.5 717.5,1161.1 719.5,1160.5 721.5,1160.5 723.5,1160.9 725.5,1159.7 727.5,1160.7 729.5,1161.3 731.5,1160.8 733.5,1159.0 735.5,1159.6 737.5,1159.7 739.5,1159.7 741.5,1160.4 743.5,1158.4 745.5,1160.4 747.5,1160.2 749.5,1158.4 751.5,1160.4 753.5,1158.9 755.5,1159.1 757.5,1160.9 759.5,1159.9 761.5,1160.9 763.5,1159.5 765.5,1158.7 767.5,1159.4 769.5,1159.6 771.5,1159.9 773.5,1162.5 775.5,1160.9 777.5,1161.6 779.5,1161.3 781.5,1161.9 783.5,1161.6 785.5,1160.6 787.5,1160.4 789.5,1160.8 791.5,1161.2 793.5,1161.0 795.5,1161.7 797.5,1161.4 799.5,1162.6 801.5,1163.4 803.5,1162.7 805.5,1160.5 807.5,1161.2 809.5,1161.8 811.5,1161.8 813.5,1162.3 815.5,1163.1 817.5,1162.6 819.5,1163.0 821.5,1163.1 823.5,1164.3 825.5,1162.8 827.5,1162.6 829.5,1164.5 831.5,1162.0 833.5,1164.6 835.5,1162.8 837.5,1163.3 839.5,1162.6 841.5,1162.5 843.5,1163.4 845.5,1163.7 847.5,1164.7 849.5,1165.0 851.5,1163.8 853.5,1166.0 855.5,1166.2 857.5,1165.7 859.5,1165.3 861.5,1164.4 863.5,1163.9 865.5,1164.0 867.5,1165.8 869.5,1165.9 871.5,1165.1 873.5,1165.8 875.5,1166.4 877.5,1164.2 879.5,1165.1 881.5,1165.3 883.5,1165.2 885.5,1164.5 887.5,1165.2 889.5,1165.0 891.5,1166.8 893.5,1164.4 895.5,1166.3 897.5,1164.2 899.5,1164.7 901.5,1164.4 903.5,1164.7 905.5,1165.0 907.5,1164.6 909.5,1166.0 911.5,1166.0 913.5,1165.6 915.5,1165.8 917.5,1164.9 919.5,1166.7 921.5,1165.7 923.5,1165.2 925.5,1164.9 927.5,1166.1 929.5,1166.7 931.5,1166.5 933.5,1164.9 935.5,1165.4 937.5,1164.2 939.5,1163.7 941.5,1164.5 943.5,1165.1 945.5,1164.2 947.5,1163.2 949.5,1163.9 951.5,1163.6 953.5,1164.3 955.5,1165.3 957.5,1163.5 959.5,1163.5 961.5,1164.1 963.5,1164.1 965.5,1164.2 967.5,1164.7 969.5,1165.2 971.5,1163.4 973.5,1165.3 975.5,1165.1 977.5,1164.4 979.5,1165.6 981.5,1164.6 983.5,1164.9 985.5,1165.0 987.5,1163.8 989.5,1162.4 991.5,1162.9 993.5,1159.6 995.5,1158.4 997.5,1159.2 999.5,1158.5 1001.5,1162.3 1003.5,1163.1 1005.5,1165.5 1007.5,1166.3 1009.5,1165.8 1011.5,1165.6 1013.5,1166.2 1015.5,1165.0 1017.5,1164.2 1019.5,1164.5 1021.5,1165.6 1023.5,1165.8 1025.5,1164.6 1027.5,1166.3 1029.5,1164.9 1031.5,1167.0 1033.5,1166.5 1035.5,1166.4 1037.5,1167.3 1039.5,1167.3 1041.5,1167.0 1043.5,1166.1 1045.5,1165.8 1047.5,1166.5 1049.5,1164.7 1051.5,1166.6 1053.5,1167.0 1055.5,1166.0 1057.5,1165.6 1059.5,1166.7 1061.5,1167.3 1063.5,1165.9 1065.5,1165.4 1067.5,1165.9 1069.5,1166.5 1071.5,1165.4 1073.5,1165.3 1075.5,1164.7 1077.5,1165.2 1079.5,1166.7 1081.5,1166.1 1083.5,1164.7 1085.5,1165.4 1087.5,1166.0 1089.5,1166.9 1091.5,1167.1 1093.5,1167.8 1095.5,1165.9 1097.5,1167.2 1099.5,1166.5 1101.5,1165.7 1103.5,1166.4 1105.5,1166.6 1107.5,1166.3 1109.5,1166.1 1111.5,1165.7 1113.5,1165.2 1115.5,1166.0 1117.5,1165.2 1119.5,1165.1 1121.5,1162.3 1123.5,1163.2 1125.5,1162.4 1127.5,1162.7 1129.5,1162.4 1131.5,1162.0 1133.5,1165.1 1135.5,1163.0 1137.5,1163.2 1139.5,1165.2 1141.5,1166.2 1143.5,1165.4 1145.5,1165.4 1147.5,1166.9 1149.5,1166.6 1151.5,1167.9 1153.5,1166.2 1155.5,1168.4 1157.5,1167.4 1159.5,1166.8 1161.5,1165.4 1163.5,1166.3 1165.5,1166.0 1167.5,1167.0 1169.5,1166.4 1171.5,1165.4 1173.5,1167.1 1175.5,1166.1 1177.5,1166.1 1179.5,1165.7 1181.5,1165.1 1183.5,1165.1 1185.5,1165.7 1187.5,1164.9 1189.5,1165.3 1191.5,1166.2 1193.5,1165.9 1195.5,1166.5 1197.5,1165.9 1199.5,1166.1 1201.5,1166.9 1203.5,1165.6 1205.5,1167.2 1207.5,1165.8 1209.5,1166.1 1211.5,1166.3 1213.5,1164.8 1215.5,1164.6 1217.5,1165.1 1219.5,1165.5 1221.5,1166.0 1223.5,1166.2 1225.5,1165.5 1227.5,1166.8 1229.5,1165.3 1231.5,1165.6 1233.5,1166.4 1235.5,1166.9 1237.5,1166.3 1239.5,1166.1 1241.5,1166.1 1243.5,1166.8 1245.5,1165.2 1247.5,1165.6 1249.5,1166.6 1251.5,1165.9 1253.5,1165.6 1255.5,1164.9 1257.5,1165.8 1259.5,1164.7 1261.5,1165.7 1263.5,1165.8 1265.5,1165.2 1267.5,1164.8 1269.5,1165.6 1271.5,1167.1 1273.5,1165.2 1275.5,1166.5 1277.5,1164.8 1279.5,1165.5 1281.5,1163.4 1283.5,1162.6 1285.5,1162.4 1287.5,1163.0 1289.5,1164.1 1291.5,1161.9 1293.5,1164.5 1295.5,1164.5 1297.5,1163.5 1299.5,1163.0 1301.5,1163.5 1303.5,1165.4 1305.5,1165.9 1307.5,1164.2 1309.5,1165.6 1311.5,1165.0 1313.5,1165.1 1315.5,1164.4 1317.5,1166.2 1319.5,1166.3 1321.5,1165.7 1323.5,1168.5 1325.5,1166.8 1327.5,1165.7 1329.5,1165.4 1331.5,1167.3 1333.5,1167.2 1335.5,1167.2 1337.5,1168.0 1339.5,1168.2 1341.5,1168.2 1343.5,1166.4 1345.5,1167.4 1347.5,1167.8 1349.5,1167.5 1351.5,1166.3 1353.5,1168.1 1355.5,1165.6 1357.5,1166.4 1359.5,1167.0 1361.5,1165.5 1363.5,1166.0 1365.5,1167.1 1367.5,1166.6 1369.5,1165.9 1371.5,1167.5 1373.5,1166.4 1375.5,1167.4 1377.5,1167.3 1379.5,1165.4 1381.5,1166.8 1383.5,1164.2 1385.5,1164.7 1387.5,1165.0 1389.5,1164.2 1391.5,1164.1 1393.5,1164.9 1395.5,1164.7 1397.5,1164.9 1399.5,1164.8 1401.5,1164.5 1403.5,1165.6 1405.5,1166.0 1407.5,1166.7 1409.5,1168.6 1411.5,1168.1 1413.5,1167.2 1415.5,1166.1 1417.5,1166.4 1419.5,1165.9 1421.5,1166.3 1423.5,1165.9 1425.5,1167.7 1427.5,1166.6 1429.5,1166.7 1431.5,1166.0 1433.5,1167.1 1435.5,1165.4 1437.5,1165.6 1439.5,1165.7 1441.5,1165.7 1443.5,1166.0 1445.5,1165.7 1447.5,1166.2 1449.5,1168.2 1451.5,1166.5 1453.5,1165.7 1455.5,1167.4 1457.5,1167.5 1459.5,1165.8 1461.5,1166.4 1463.5,1166.1 1465.5,1166.4 1467.5,1168.1 1469.5,1167.1 1471.5,1167.7 1473.5,1167.6 1475.5,1166.8 1477.5,1167.0 1479.5,1166.6 1481.5,1168.2 1483.5,1165.7 1485.5,1165.2 1487.5,1167.5 1489.5,1166.1 1491.5,1167.7 1493.5,1167.2 1495.5,1165.6 1497.5,1167.6 1499.5,1165.6 1501.5,1167.3 1503.5,1165.8 1505.5,1164.9 1507.5,1167.4 1509.5,1167.1 1511.5,1166.9 1513.5,1167.1 1515.5,1167.2 1517.5,1165.8 1519.5,1167.3 1521.5,1167.6 1523.5,1167.1 1525.5,1165.9 1527.5,1165.7 1529.5,1166.4 1531.5,1165.1 1533.5,1166.1 1535.5,1165.4 1537.5,1165.0 1539.5,1166.0 1541.5,1166.3 1543.5,1165.0 1545.5,1165.9 1547.5,1164.4 1549.5,1166.0 1551.5,1164.8 1553.5,1166.2 1555.5,1165.3 1557.5,1165.9 1559.5,1166.2 1561.5,1164.6 1563.5,1164.4 1565.5,1164.4 1567.5,1164.6 1569.5,1165.4 1571.5,1165.3 1573.5,1164.6 1575.5,1165.5 1577.5,1165.3 1579.5,1165.0 1581.5,1166.0 1583.5,1164.0 1585.5,1164.5 1587.5,1165.5 1589.5,1164.7 1591.5,1165.5 1593.5,1166.7 1595.5,1165.9 1597.5,1165.3 1599.5,1167.1 1601.5,1165.9 1603.5,1167.1 1605.5,1166.6 1607.5,1166.7 1609.5,1166.6 1611.5,1165.7 1613.5,1165.7 1615.5,1167.3 1617.5,1166.7 1619.5,1166.3 1621.5,1166.5 1623.5,1167.6 1625.5,1167.2 1627.5,1167.3 1629.5,1167.3 1631.5,1166.9 1633.5,1166.0 1635.5,1167.5 1637.5,1167.1 1639.5,1166.5 1641.5,1168.2 1643.5,1168.1 1645.5,1168.0 1647.5,1167.0 1649.5,1167.7 1651.5,1166.5 1653.5,1166.6 1655.5,1167.6 1657.5,1166.3 1659.5,1166.6 1661.5,1168.0 1663.5,1166.1 1665.5,1167.9 1667.5,1167.1 1669.5,1165.4 1671.5,1166.3 1673.5,1167.6 1675.5,1166.4 1677.5,1166.1 1679.5,1167.7 1681.5,1167.4 1683.5,1166.1 1685.5,1168.0 1687.5,1167.2 1689.5,1166.7 1691.5,1168.4 1693.5,1167.0 1695.5,1167.3 1697.5,1167.7 1699.5,1169.2 1701.5,1167.9 1703.5,1166.9 1705.5,1168.1 1707.5,1168.6 1709.5,1167.2 1711.5,1168.7 1713.5,1167.7 1715.5,1167.6 1717.5,1169.0 1719.5,1168.9 1721.5,1167.9 1723.5,1168.3 1725.5,1167.8 1727.5,1168.1 1729.5,1168.0 1731.5,1169.8 1733.5,1169.2 1735.5,1168.9 1737.5,1167.2 1739.5,1168.2 1741.5,1167.9 1743.5,1166.5 1745.5,1167.3 1747.5,1166.6 1749.5,1168.6 1751.5,1168.1 1753.5,1168.5 1755.5,1169.2 1757.5,1168.8 1759.5,1167.6 1761.5,1167.4 1763.5,1167.3 1765.5,1167.9 1767.5,1168.3 1769.5,1166.7 1771.5,1167.9 1773.5,1167.0 1775.5,1166.6 1777.5,1167.8 1779.5,1167.6 1781.5,1168.6 1783.5,1168.6 1785.5,1167.9 1787.5,1167.1 1789.5,1167.3 1791.5,1167.9 1793.5,1168.2 1795.5,1168.2 1797.5,1169.1 1799.5,1167.8 1801.5,1167.9 1803.5,1167.3 1805.5,1167.9 1807.5,1167.7 1809.5,1166.7 1811.5,1167.6 1813.5,1167.4 1815.5,1169.1 1817.5,1168.9 1819.5,1168.9 1821.5,1167.8 1823.5,1168.5 1825.5,1168.1 1827.5,1169.0 1829.5,1169.6 1831.5,1168.9 1833.5,1169.1 1835.5,1169.3 1837.5,1169.5 1839.5,1168.5 1841.5,1169.0 1843.5,1168.6 1845.5,1168.6 1847.5,1169.3 1849.5,1170.1 1851.5,1168.3 1853.5,1169.0 1855.5,1167.5 1857.5,1168.8 1859.5,1168.8 1861.5,1168.2 1863.5,1168.6 1865.5,1167.5 1867.5,1167.7 1869.5,1168.5 1871.5,1168.0 1873.5,1168.1 1875.5,1169.4 1877.5,1169.0 1879.5,1169.7 1881.5,1168.0 1883.5,1167.1 1885.5,1167.9 1887.5,1169.4 1889.5,1168.1 1891.5,1167.8 1893.5,1170.1 1895.5,1168.0 1897.5,1168.8 1899.5,1167.8 1901.5,1168.5 1903.5,1168.9 1905.5,1168.3 1907.5,1168.0 1909.5,1168.9 1911.5,1167.8 1913.5,1167.6 1915.5,1170.1 1917.5,1168.1 1919.5,1169.3 1921.5,1167.9 1923.5,1168.7 1925.5,1169.2 1927.5,1167.8 1929.5,1168.8 1931.5,1167.6 1933.5,1169.1 1935.5,1169.6 1937.5,1168.8 1939.5,1168.8 1941.5,1168.3 1943.5,1169.1 1945.5,1168.4 1947.5,1169.1 1949.5,1169.3 1951.5,1169.4 1953.5,1168.3 1955.5,1168.3 1957.5,1169.9 1959.5,1169.8 1961.5,1170.4 1963.5,1169.7 1965.5,1169.3 1967.5,1168.1 1969.5,1168.6 1971.5,1170.0 1973.5,1169.8 1975.5,1168.6 1977.5,1168.2 1979.5,1168.8 1981.5,1168.4 1983.5,1168.3 1987.0,1168.3"/>
<polyline class="tr" stroke="#ff4040" stroke-width="6" stroke-linecap="round" points="1649.5,1167.7 1652.0,1165.3 1653.0,1163.2 1654.2,1165.5 1658.0,1167.2"/>
<polyline class="tr" stroke="#ff4040" stroke-width="6" stroke-linecap="round" points="1671.3,1167.7 1673.8,1165.0 1674.8,1162.7 1676.0,1165.3 1679.8,1167.2"/>
<polyline class="tr" stroke="#505050" stroke-width="10.5" points="139.0,1357.1 141.5,1357.1 143.5,1356.4 145.5,1357.7 147.5,1356.4 149.5,1357.8 151.5,1357.4 153.5,1357.0 155.5,1358.9 157.5,1357.4 159.5,1357.2 161.5,1357.9 163.5,1357.2 165.5,1357.6 167.5,1357.9 169.5,1358.6 171.5,1358.3 173.5,1360.2 175.5,1360.7 177.5,1359.6 179.5,1360.0 181.5,1360.8 183.5,1361.4 185.5,1361.7 187.5,1362.1 189.5,1362.1 191.5,1361.8 193.5,1361.2 195.5,1361.8 197.5,1361.4 199.5,1362.5 201.5,1363.7 203.5,1361.6 205.5,1362.3 207.5,1361.7 209.5,1363.0 211.5,1363.3 213.5,1363.9 215.5,1364.3 217.5,1364.6 219.5,1363.1 221.5,1363.7 223.5,1363.9 225.5,1361.8 227.5,1359.7 229.5,1356.7 231.5,1355.1 233.5,1355.3 235.5,1358.9 237.5,1361.3 239.5,1362.6 241.5,1362.9 243.5,1364.3 245.5,1364.7 247.5,1363.9 249.5,1363.8 251.5,1363.3 253.5,1364.2 255.5,1363.8 257.5,1365.5 259.5,1365.3 261.5,1364.6 263.5,1365.0 265.5,1364.8 267.5,1365.4 269.5,1364.6 271.5,1364.3 273.5,1365.6 275.5,1367.1 277.5,1366.1 279.5,1367.0 281.5,1366.8 283.5,1366.8 285.5,1366.6 287.5,1367.4 289.5,1366.6 291.5,1367.1 293.5,1368.8 295.5,1369.8 297.5,1368.1 299.5,1368.8 301.5,1367.6 303.5,1368.9 305.5,1367.9 307.5,1367.1 309.5,1368.7 311.5,1368.2 313.5,1368.6 315.5,1367.9 317.5,1370.0 319.5,1369.6 321.5,1369.2 323.5,1368.9 325.5,1368.0 327.5,1369.9 329.5,1368.3 331.5,1367.9 333.5,1368.4 335.5,1366.9 337.5,1365.8 339.5,1364.2 341.5,1363.8 343.5,1365.4 345.5,1366.3 347.5,1366.5 349.5,1368.5 351.5,1367.8 353.5,1369.0 355.5,1368.8 357.5,1366.8 359.5,1368.7 361.5,1366.6 363.5,1368.6 365.5,1367.7 367.5,1367.7 369.5,1367.0 371.5,1367.4 373.5,1366.8 375.5,1369.3 377.5,1367.6 379.5,1369.6 381.5,1367.8 383.5,1367.0 385.5,1366.6 387.5,1368.3 389.5,1366.0 391.5,1367.9 393.5,1367.7 395.5,1365.7 397.5,1366.3 399.5,1367.4 401.5,1366.8 403.5,1366.1 405.5,1365.8 407.5,1365.6 409.5,1365.7 411.5,1365.5 413.5,1365.6 415.5,1365.4 417.5,1364.2 419.5,1366.4 421.5,1366.9 423.5,1366.0 425.5,1367.3 427.5,1366.0 429.5,1365.9 431.5,1364.8 433.5,1364.7 435.5,1365.4 437.5,1365.2 439.5,1365.0 441.5,1364.8 443.5,1365.3 445.5,1365.8 447.5,1366.5 449.5,1367.0 451.5,1367.6 453.5,1366.5 455.5,1366.8 457.5,1365.9 459.5,1367.0 461.5,1365.6 463.5,1365.5 465.5,1365.3 467.5,1366.2 469.5,1366.2 471.5,1364.9 473.5,1364.4 475.5,1367.1 477.5,1365.5 479.5,1366.3 481.5,1366.9 483.5,1365.1 485.5,1366.5 487.5,1366.6 489.5,1365.5 491.5,1365.0 493.5,1364.8 495.5,1365.4 497.5,1367.0 499.5,1365.5 501.5,1367.3 503.5,1365.3 505.5,1366.3 507.5,1364.2 509.5,1366.2 511.5,1365.3 513.5,1364.6 515.5,1364.7 517.5,1364.9 519.5,1365.3 521.5,1364.3 523.5,1365.8 525.5,1365.8 527.5,1365.7 529.5,1364.9 531.5,1365.6 533.5,1363.2 535.5,1363.7 537.5,1363.8 539.5,1362.4 541.5,1362.1 543.5,1362.6 545.5,1361.1 547.5,1360.1 549.5,1360.0 551.5,1359.9 553.5,1358.8 555.5,1354.3 557.5,1352.3 559.5,1351.4 561.5,1351.4 563.5,1351.1 565.5,1353.2 567.5,1351.7 569.5,1352.2 571.5,1353.5 573.5,1351.7 575.5,1351.7 577.5,1354.0 579.5,1352.8 581.5,1354.8 583.5,1356.3 585.5,1355.5 587.5,1357.9 589.5,1358.2 591.5,1359.4 593.5,1359.9 595.5,1363.0 597.5,1363.8 599.5,1362.9 601.5,1363.2 603.5,1363.0 605.5,1363.5 607.5,1364.6 609.5,1364.0 611.5,1364.2 613.5,1364.1 615.5,1365.1 617.5,1366.6 619.5,1365.6 621.5,1367.1 623.5,1365.8 625.5,1367.0 627.5,1367.2 629.5,1367.4 631.5,1367.7 633.5,1368.6 635.5,1366.0 637.5,1367.0 639.5,1367.9 641.5,1367.5 643.5,1366.4 645.5,1367.4 647.5,1367.1 649.5,1367.5 651.5,1365.9 653.5,1365.8 655.5,1367.9 657.5,1366.6 659.5,1366.7 661.5,1366.4 663.5,1366.0 665.5,1366.0 667.5,1365.7 669.5,1367.5 671.5,1366.6 673.5,1366.1 675.5,1367.1 677.5,1366.9 679.5,1366.5 681.5,1367.2 683.5,1365.7 685.5,1366.3 687.5,1365.8 689.5,1366.5 691.5,1366.3 693.5,1366.6 695.5,1365.7 697.5,1365.8 699.5,1367.6 701.5,1365.8 703.5,1365.5 705.5,1366.7 707.5,1366.1 709.5,1368.0 711.5,1367.2 713.5,1366.6 715.5,1366.8 717.5,1367.2 719.5,1367.6 721.5,1368.0 723.5,1365.5 725.5,1366.5 727.5,1367.0 729.5,1366.2 731.5,1367.4 733.5,1366.0 735.5,1367.4 737.5,1365.1 739.5,1365.1 741.5,1366.5 743.5,1365.4 745.5,1366.9 747.5,1365.2 749.5,1366.2 751.5,1364.2 753.5,1364.7 755.5,1364.7 757.5,1366.1 759.5,1363.0 761.5,1363.6 763.5,1362.9 765.5,1363.4 767.5,1364.9 769.5,1364.5 771.5,1365.0 773.5,1364.8 775.5,1365.7 777.5,1365.8 779.5,1365.2 781.5,1366.4 783.5,1367.0 785.5,1366.7 787.5,1367.0 789.5,1366.5 791.5,1366.2 793.5,1368.4 795.5,1368.4 797.5,1368.7 799.5,1368.0 801.5,1367.6 803.5,1367.2 805.5,1369.2 807.5,1368.8 809.5,1368.9 811.5,1368.8 813.5,1369.4 815.5,1368.2 817.5,1369.5 819.5,1369.6 821.5,1368.5 823.5,1370.0 825.5,1370.1 827.5,1370.1 829.5,1370.4 831.5,1371.5 833.5,1372.0 835.5,1371.4 837.5,1371.9 839.5,1372.9 841.5,1371.1 843.5,1371.7 845.5,1371.9 847.5,1374.0 849.5,1372.8 851.5,1374.2 853.5,1373.6 855.5,1373.6 857.5,1373.8 859.5,1373.7 861.5,1375.6 863.5,1374.9 865.5,1373.3 867.5,1374.4 869.5,1373.7 871.5,1375.0 873.5,1375.3 875.5,1374.7 877.5,1375.5 879.5,1374.9 881.5,1374.4 883.5,1375.4 885.5,1376.1 887.5,1375.5 889.5,1373.2 891.5,1374.5 893.5,1374.3 895.5,1374.7 897.5,1374.9 899.5,1373.3 901.5,1374.1 903.5,1375.5 905.5,1374.3 907.5,1373.0 909.5,1373.8 911.5,1374.9 913.5,1374.4 915.5,1373.1 917.5,1373.1 919.5,1373.0 921.5,1373.0 923.5,1374.6 925.5,1374.6 927.5,1372.3 929.5,1373.7 931.5,1373.6 933.5,1372.3 935.5,1373.3 937.5,1374.0 939.5,1372.7 941.5,1372.8 943.5,1372.1 945.5,1371.6 947.5,1372.2 949.5,1371.5 951.5,1371.5 953.5,1371.8 955.5,1371.5 957.5,1372.2 959.5,1373.1 961.5,1372.4 963.5,1371.5 965.5,1372.8 967.5,1371.3 969.5,1372.7 971.5,1371.5 973.5,1372.0 975.5,1370.2 977.5,1370.8 979.5,1371.1 981.5,1372.5 983.5,1370.7 985.5,1371.8 987.5,1371.5 989.5,1370.2 991.5,1369.1 993.5,1366.3 995.5,1365.7 997.5,1364.8 999.5,1366.5 1001.5,1366.9 1003.5,1370.8 1005.5,1371.3 1007.5,1373.5 1009.5,1372.7 1011.5,1372.3 1013.5,1373.9 1015.5,1373.7 1017.5,1374.0 1019.5,1374.8 1021.5,1374.2 1023.5,1372.4 1025.5,1371.8 1027.5,1372.8 1029.5,1373.1 1031.5,1374.3 1033.5,1374.0 1035.5,1373.7 1037.5,1374.8 1039.5,1374.5 1041.5,1375.5 1043.5,1374.9 1045.5,1374.5 1047.5,1374.3 1049.5,1373.5 1051.5,1373.6 1053.5,1374.1 1055.5,1373.5 1057.5,1372.7 1059.5,1371.2 1061.5,1371.8 1063.5,1372.1 1065.5,1371.0 1067.5,1371.1 1069.5,1369.5 1071.5,1371.8 1073.5,1371.4 1075.5,1373.5 1077.5,1374.1 1079.5,1372.3 1081.5,1373.5 1083.5,1373.7 1085.5,1375.8 1087.5,1375.9 1089.5,1376.9 1091.5,1374.5 1093.5,1376.0 1095.5,1375.0 1097.5,1374.7 1099.5,1374.1 1101.5,1374.0 1103.5,1373.6 1105.5,1373.1 1107.5,1373.9 1109.5,1373.0 1111.5,1372.4 1113.5,1374.8 1115.5,1373.1 1117.5,1372.7 1119.5,1373.6 1121.5,1374.6 1123.5,1371.8 1125.5,1373.3 1127.5,1373.6 1129.5,1371.7 1131.5,1372.8 1133.5,1372.0 1135.5,1372.0 1137.5,1372.9 1139.5,1372.0 1141.5,1372.3 1143.5,1371.1 1145.5,1371.6 1147.5,1371.1 1149.5,1369.2 1151.5,1370.3 1153.5,1370.1 1155.5,1369.8 1157.5,1370.8 1159.5,1372.6 1161.5,1373.2 1163.5,1371.4 1165.5,1373.0 1167.5,1372.4 1169.5,1373.8 1171.5,1372.3 1173.5,1372.7 1175.5,1373.8 1177.5,1373.8 1179.5,1372.7 1181.5,1373.9 1183.5,1374.0 1185.5,1374.2 1187.5,1373.2 1189.5,1374.6 1191.5,1374.7 1193.5,1373.8 1195.5,1373.2 1197.5,1374.4 1199.5,1372.9 1201.5,1372.7 1203.5,1373.4 1205.5,1373.7 1207.5,1372.7 1209.5,1373.9 1211.5,1373.4 1213.5,1373.9 1215.5,1373.6 1217.5,1373.0 1219.5,1375.2 1221.5,1373.5 1223.5,1374.0 1225.5,1374.6 1227.5,1375.1 1229.5,1374.1 1231.5,1374.9 1233.5,1375.4 1235.5,1374.4 1237.5,1374.3 1239.5,1373.5 1241.5,1374.0 1243.5,1374.0 1245.5,1373.0 1247.5,1373.4 1249.5,1373.3 1251.5,1371.3 1253.5,1371.8 1255.5,1372.9 1257.5,1371.3 1259.5,1371.5 1261.5,1373.2 1263.5,1372.0 1265.5,1371.2 1267.5,1369.9 1269.5,1371.5 1271.5,1371.0 1273.5,1370.8 1275.5,1369.3 1277.5,1368.7 1279.5,1369.1 1281.5,1369.0 1283.5,1366.1 1285.5,1367.0 1287.5,1366.8 1289.5,1365.7 1291.5,1365.9 1293.5,1367.7 1295.5,1366.5 1297.5,1368.9 1299.5,1369.5 1301.5,1369.7 1303.5,1371.6 1305.5,1371.3 1307.5,1371.0 1309.5,1371.1 1311.5,1372.8 1313.5,1372.4 1315.5,1372.8 1317.5,1374.6 1319.5,1373.6 1321.5,1374.0 1323.5,1374.8 1325.5,1373.4 1327.5,1374.5 1329.5,1374.5 1331.5,1375.4 1333.5,1375.1 1335.5,1374.1 1337.5,1374.0 1339.5,1374.4 1341.5,1376.1 1343.5,1375.0 1345.5,1374.9 1347.5,1375.4 1349.5,1377.2 1351.5,1376.2 1353.5,1376.6 1355.5,1376.8 1357.5,1375.9 1359.5,1375.1 1361.5,1375.7 1363.5,1376.0 1365.5,1375.1 1367.5,1374.2 1369.5,1376.1 1371.5,1376.1 1373.5,1376.1 1375.5,1374.3 1377.5,1375.7 1379.5,1374.1 1381.5,1373.9 1383.5,1372.3 1385.5,1372.2 1387.5,1371.0 1389.5,1371.2 1391.5,1372.3 1393.5,1372.5 1395.5,1373.8 1397.5,1373.2 1399.5,1375.3 1401.5,1375.6 1403.5,1376.3 1405.5,1377.0 1407.5,1377.1 1409.5,1377.6 1411.5,1376.5 1413.5,1377.4 1415.5,1377.2 1417.5,1376.8 1419.5,1377.6 1421.5,1376.5 1423.5,1375.1 1425.5,1376.1 1427.5,1376.3 1429.5,1376.1 1431.5,1375.8 1433.5,1376.2 1435.5,1376.8 1437.5,1378.0 1439.5,1377.4 1441.5,1375.7 1443.5,1375.6 1445.5,1376.2 1447.5,1375.7 1449.5,1374.5 1451.5,1376.7 1453.5,1375.2 1455.5,1376.1 1457.5,1376.6 1459.5,1376.8 1461.5,1376.8 1463.5,1377.1 1465.5,1376.0 1467.5,1377.1 1469.5,1378.2 1471.5,1376.5 1473.5,1377.2 1475.5,1377.3 1477.5,1375.5 1479.5,1375.6 1481.5,1376.0 1483.5,1375.5 1485.5,1375.3 1487.5,1375.1 1489.5,1376.4 1491.5,1374.8 1493.5,1375.1 1495.5,1375.6 1497.5,1376.5 1499.5,1374.4 1501.5,1375.9 1503.5,1374.2 1505.5,1374.4 1507.5,1374.0 1509.5,1374.8 1511.5,1374.7 1513.5,1374.7 1515.5,1374.2 1517.5,1372.8 1519.5,1373.9 1521.5,1374.1 1523.5,1372.9 1525.5,1372.0 1527.5,1372.3 1529.5,1372.7 1531.5,1372.0 1533.5,1372.8 1535.5,1372.8 1537.5,1371.2 1539.5,1372.1 1541.5,1372.1 1543.5,1371.5 1545.5,1370.6 1547.5,1371.7 1549.5,1371.6 1551.5,1370.3 1553.5,1370.2 1555.5,1371.1 1557.5,1371.2 1559.5,1370.6 1561.5,1371.8 1563.5,1372.0 1565.5,1371.3 1567.5,1372.0 1569.5,1372.6 1571.5,1372.1 1573.5,1371.6 1575.5,1371.2 1577.5,1372.2 1579.5,1371.9 1581.5,1372.2 1583.5,1371.6 1585.5,1372.9 1587.5,1371.8 1589.5,1372.2 1591.5,1373.1 1593.5,1372.6 1595.5,1373.8 1597.5,1374.3 1599.5,1373.0 1601.5,1374.3 1603.5,1374.6 1605.5,1372.7 1607.5,1372.1 1609.5,1372.8 1611.5,1373.8 1613.5,1373.3 1615.5,1373.1 1617.5,1373.3 1619.5,1375.6 1621.5,1374.5 1623.5,1374.5 1625.5,1375.0 1627.5,1375.8 1629.5,1376.5 1631.5,1377.1 1633.5,1375.7 1635.5,1376.4 1637.5,1377.0 1639.5,1377.7 1641.5,1376.7 1643.5,1376.4 1645.5,1375.1 1647.5,1375.6 1649.5,1374.9 1651.5,1376.8 1653.5,1376.0 1655.5,1375.1 1657.5,1375.8 1659.5,1376.2 1661.5,1375.8 1663.5,1376.4 1665.5,1376.9 1667.5,1374.5 1669.5,1375.5 1671.5,1376.0 1673.5,1376.6 1675.5,1377.2 1677.5,1377.3 1679.5,1377.0 1681.5,1375.6 1683.5,1375.8 1685.5,1377.2 1687.5,1376.7 1689.5,1375.3 1691.5,1377.1 1693.5,1376.3 1695.5,1376.8 1697.5,1377.5 1699.5,1376.6 1701.5,1378.7 1703.5,1376.6 1705.5,1375.9 1707.5,1376.9 1709.5,1377.0 1711.5,1377.9 1713.5,1377.1 1715.5,1375.2 1717.5,1374.9 1719.5,1377.0 1721.5,1376.0 1723.5,1374.9 1725.5,1376.3 1727.5,1377.4 1729.5,1375.5 1731.5,1374.3 1733.5,1374.7 1735.5,1373.7 1737.5,1373.7 1739.5,1373.9 1741.5,1375.6 1743.5,1374.6 1745.5,1375.2 1747.5,1377.9 1749.5,1377.7 1751.5,1376.6 1753.5,1377.3 1755.5,1378.6 1757.5,1377.0 1759.5,1378.2 1761.5,1378.1 1763.5,1377.6 1765.5,1377.0 1767.5,1378.7 1769.5,1378.1 1771.5,1378.4 1773.5,1377.1 1775.5,1377.0 1777.5,1376.7 1779.5,1377.7 1781.5,1378.0 1783.5,1377.3 1785.5,1376.9 1787.5,1378.3 1789.5,1377.6 1791.5,1377.3 1793.5,1377.6 1795.5,1378.2 1797.5,1377.8 1799.5,1377.7 1801.5,1376.8 1803.5,1378.4 1805.5,1377.4 1807.5,1378.4 1809.5,1377.9 1811.5,1379.5 1813.5,1378.8 1815.5,1379.1 1817.5,1378.9 1819.5,1377.8 1821.5,1377.5 1823.5,1378.4 1825.5,1376.9 1827.5,1377.3 1829.5,1377.4 1831.5,1377.8 1833.5,1378.7 1835.5,1376.9 1837.5,1379.1 1839.5,1377.1 1841.5,1377.4 1843.5,1377.0 1845.5,1378.1 1847.5,1378.5 1849.5,1378.0 1851.5,1378.3 1853.5,1379.0 1855.5,1377.7 1857.5,1377.6 1859.5,1378.2 1861.5,1377.5 1863.5,1378.2 1865.5,1377.8 1867.5,1377.9 1869.5,1378.2 1871.5,1378.2 1873.5,1378.8 1875.5,1377.3 1877.5,1378.3 1879.5,1378.8 1881.5,1378.7 1883.5,1377.5 1885.5,1378.9 1887.5,1377.6 1889.5,1377.5 1891.5,1379.4 1893.5,1378.7 1895.5,1378.6 1897.5,1379.7 1899.5,1378.0 1901.5,1379.9 1903.5,1379.8 1905.5,1379.0 1907.5,1380.1 1909.5,1380.0 1911.5,1379.1 1913.5,1378.6 1915.5,1379.7 1917.5,1380.2 1919.5,1378.5 1921.5,1379.6 1923.5,1379.0 1925.5,1378.7 1927.5,1379.9 1929.5,1379.1 1931.5,1380.0 1933.5,1379.1 1935.5,1381.0 1937.5,1381.5 1939.5,1380.3 1941.5,1379.8 1943.5,1378.0 1945.5,1378.2 1947.5,1378.8 1949.5,1378.7 1951.5,1379.7 1953.5,1378.7 1955.5,1379.8 1957.5,1380.3 1959.5,1380.1 1961.5,1378.7 1963.5,1379.1 1965.5,1380.0 1967.5,1379.7 1969.5,1378.5 1971.5,1378.5 1973.5,1378.1 1975.5,1380.1 1977.5,1380.4 1979.5,1380.3 1981.5,1379.1 1983.5,1381.0 1987.0,1381.0"/>
<polyline class="tr" stroke="#505050" stroke-width="6" stroke-linecap="round" points="1008.5,1373.0 1011.0,1371.2 1012.0,1369.5 1013.2,1371.4 1017.0,1372.5"/>
<polyline class="tr" stroke="#505050" stroke-width="6" stroke-linecap="round" points="1071.8,1371.1 1074.3,1364.5 1075.3,1359.6 1076.5,1365.0 1080.3,1370.6"/>
<rect x="287.0" y="165.0" width="35.0" height="1368.0" fill="url(#gy)"/>
<rect x="415.0" y="167.3" width="38.0" height="1358.4" fill="url(#gc)"/>
<rect x="495.2" y="166.0" width="30.8" height="1361.7" fill="url(#gg)"/>
<rect x="565.0" y="166.0" width="31.0" height="1359.7" fill="url(#gc)"/>
<rect x="628.2" y="169.0" width="85.8" height="1356.7" fill="url(#go)"/>
<rect x="732.0" y="165.0" width="31.0" height="1363.0" fill="url(#gg)"/>
<rect x="785.8" y="169.8" width="87.2" height="1358.2" fill="url(#go)"/>
<polygon points="902.5,166.1 938,166.1 938,525 936.3,525 936.3,1523.8 901,1523.8 901,248 902.5,248" fill="url(#gp)"/>
<rect x="939.0" y="170.0" width="36.0" height="1358.0" fill="url(#go)"/>
<rect x="1049.2" y="160.0" width="19.8" height="1368.0" fill="url(#gc)"/>
<rect x="1162.0" y="170.0" width="31.0" height="1353.8" fill="url(#gg)"/>
<rect x="1196.2" y="172.0" width="35.8" height="1353.7" fill="url(#go)"/>
<rect x="1291.0" y="172.0" width="31.0" height="1353.7" fill="url(#gg)"/>
<rect x="1426.0" y="177.0" width="62.0" height="1351.0" fill="url(#gc)"/>
<polygon points="304.5,121.0 328.0,144.5 304.5,168.0 281.0,144.5" fill="#008000"/>
<polygon points="436.5,115.8 443.1,136.0 464.3,136.0 447.1,148.4 453.7,168.6 436.5,156.2 419.3,168.6 425.9,148.4 408.7,136.0 429.9,136.0" fill="#ff1418"/>
<text class="sym" transform="translate(488.15,165.16) scale(1.0063,0.9937)" font-size="76.44" fill="#c48500">♥</text>
<polygon points="582.6,118.6 588.9,137.9 609.2,137.9 592.8,149.9 599.1,169.3 582.6,157.3 566.1,169.3 572.4,149.9 556.0,137.9 576.3,137.9" fill="#ff1418"/>
<text class="sym" transform="translate(649.71,168.20) scale(1.0109,0.9891)" font-size="78.24" fill="#0000ff">♣</text>
<text class="sym" transform="translate(728.12,164.87) scale(1.0137,0.9863)" font-size="76.48" fill="#c48500">♥</text>
<text class="sym" transform="translate(805.61,165.20) scale(1.0109,0.9891)" font-size="78.24" fill="#0000ff">♣</text>
<polygon points="916.6,124.6 937.2,166.0 896.0,166.0" fill="#7f0000"/>
<text class="sym" transform="translate(935.39,171.00) scale(1.0119,0.9881)" font-size="78.66" fill="#0000ff">♣</text>
<polygon points="1059.5,114.6 1065.4,132.6 1084.3,132.6 1069.0,143.8 1074.8,161.8 1059.5,150.7 1044.2,161.8 1050.0,143.8 1034.7,132.6 1053.6,132.6" fill="#ff1418"/>
<text class="sym" transform="translate(1157.13,169.97) scale(1.0124,0.9876)" font-size="76.38" fill="#c48500">♥</text>
<text class="sym" transform="translate(1197.61,173.00) scale(1.0098,0.9902)" font-size="78.33" fill="#0000ff">♣</text>
<text class="sym" transform="translate(1286.89,172.97) scale(1.0153,0.9847)" font-size="76.96" fill="#c48500">♥</text>
<polygon points="1459.5,124.6 1465.4,142.7 1484.4,142.7 1469.0,153.9 1474.9,172.0 1459.5,160.8 1444.1,172.0 1450.0,153.9 1434.6,142.7 1453.6,142.7" fill="#ff1418"/>
<text class="sym" transform="translate(1611.60,65.90) scale(1.0152,0.9848)" font-size="78.24" fill="#0000ff">♣</text>
<text x="1664" y="65" font-size="58">-Calcite</text>
<text class="sym" transform="translate(1893.83,66.54) scale(1.0093,0.9907)" font-size="78.62" fill="#c48500">♥</text>
<text x="1937.5" y="65" font-size="58">-Hematite</text>
<polygon points="1639.0,97.4 1659.5,136.9 1618.5,136.9" fill="#7f0000"/>
<text x="1666.5" y="134.8" font-size="58">-Gypsum</text>
<polygon points="1924.6,98.7 1948.3,122.4 1924.6,146.1 1900.9,122.4" fill="#008000"/>
<text x="1952" y="144.6" font-size="58">-Mullite</text>
<polygon points="1645.4,180.7 1651.3,198.7 1670.2,198.7 1654.9,209.9 1660.7,227.9 1645.4,216.8 1630.1,227.9 1635.9,209.9 1620.6,198.7 1639.5,198.7" fill="#ff1418"/>
<text x="1673" y="229" font-size="58">-Quartz</text>
<text x="140.3" y="1602" font-size="60" text-anchor="middle">10</text>
<text x="404.3" y="1602" font-size="60" text-anchor="middle">20</text>
<text x="668.3" y="1602" font-size="60" text-anchor="middle">30</text>
<text x="932.3" y="1602" font-size="60" text-anchor="middle">40</text>
<text x="1196.3" y="1602" font-size="60" text-anchor="middle">50</text>
<text x="1460.3" y="1602" font-size="60" text-anchor="middle">60</text>
<text x="1724.3" y="1602" font-size="60" text-anchor="middle">70</text>
<text x="1988.3" y="1602" font-size="60" text-anchor="middle">80</text>
<text x="1063.8" y="1687.9" font-size="71.5" text-anchor="middle">2θ <tspan class="n">(</tspan>degree<tspan class="n">)</tspan></text>
<text x="1134.8" y="1789.3" font-size="76" text-anchor="middle"><tspan class="n">(</tspan>a<tspan class="n">)</tspan></text>
<text transform="translate(70,847.5) rotate(-90)" font-size="71" text-anchor="middle">Intensity <tspan class="n">(</tspan>a.u.<tspan class="n">)</tspan></text>
<text x="1666.4" y="395.7" font-size="72">I2</text>
<rect x="1814.0" y="333.0" width="408.0" height="80.6" fill="#fff" stroke="#000" stroke-width="4"/>
<text x="1821.8" y="392.8" font-size="58">80<tspan letter-spacing="-3.5">°C</tspan><tspan dx="2">@</tspan><tspan dx="1">10h</tspan><tspan class="cj" dx="2">，</tspan><tspan dx="-3">NS</tspan></text>
<text x="1669.3" y="533.5" font-size="72">I1</text>
<rect x="1808.0" y="468.7" width="432.0" height="81.0" fill="#fff" stroke="#000" stroke-width="4"/>
<text x="1816.8" y="526.8" font-size="58">80<tspan letter-spacing="-3.5">°C</tspan><tspan dx="2">@</tspan><tspan dx="1">10h</tspan><tspan class="cj" dx="2">，</tspan><tspan dx="-3">TW</tspan></text>
<text x="1663.4" y="668.4" font-size="72">D3</text>
<rect x="1814.0" y="604.5" width="408.0" height="81.6" fill="#fff" stroke="#000" stroke-width="4"/>
<text x="1821.8" y="662.6" font-size="58">80<tspan letter-spacing="-3.5">°C</tspan><tspan dx="2">@</tspan><tspan dx="1">12h</tspan><tspan class="cj" dx="2">，</tspan><tspan dx="-3">NS</tspan></text>
<text x="1666.4" y="816.4" font-size="72">D1</text>
<rect x="1814.0" y="751.3" width="431.0" height="81.6" fill="#fff" stroke="#000" stroke-width="4"/>
<text x="1821.8" y="812.3" font-size="58">80<tspan letter-spacing="-3.5">°C</tspan><tspan dx="2">@</tspan><tspan dx="1">12h</tspan><tspan class="cj" dx="2">，</tspan><tspan dx="-3">TW</tspan></text>
<text x="1669.9" y="954.5" font-size="72">B3</text>
<rect x="1814.0" y="890.6" width="408.0" height="80.1" fill="#fff" stroke="#000" stroke-width="4"/>
<text x="1821.8" y="950.1" font-size="58">60<tspan letter-spacing="-3.5">°C</tspan><tspan dx="2">@</tspan><tspan dx="1">12h</tspan><tspan class="cj" dx="2">，</tspan><tspan dx="-3">NS</tspan></text>
<text x="1677.5" y="1107.4" font-size="72">B1</text>
<rect x="1814.0" y="1043.5" width="431.0" height="80.1" fill="#fff" stroke="#000" stroke-width="4"/>
<text x="1821.8" y="1103.0" font-size="58">60<tspan letter-spacing="-3.5">°C</tspan><tspan dx="2">@</tspan><tspan dx="1">12h</tspan><tspan class="cj" dx="2">，</tspan><tspan dx="-3">TW</tspan></text>
<text x="1676.6" y="1308.3" font-size="72">A3</text>
<rect x="1817.0" y="1232.0" width="408.0" height="81.7" fill="#fff" stroke="#000" stroke-width="4"/>
<text x="1824.1" y="1292.8" font-size="58">20<tspan letter-spacing="-3.5">°C</tspan><tspan dx="2">@</tspan><tspan dx="1">12h</tspan><tspan class="cj" dx="2">，</tspan><tspan dx="-3">NS</tspan></text>
<text x="1673.7" y="1466.7" font-size="72">A1</text>
<rect x="1816.0" y="1402.1" width="431.0" height="81.6" fill="#fff" stroke="#000" stroke-width="4"/>
<text x="1823.3" y="1463.2" font-size="58">20<tspan letter-spacing="-3.5">°C</tspan><tspan dx="2">@</tspan><tspan dx="1">12h</tspan><tspan class="cj" dx="2">，</tspan><tspan dx="-3">TW</tspan></text>
</svg>
</body></html>
